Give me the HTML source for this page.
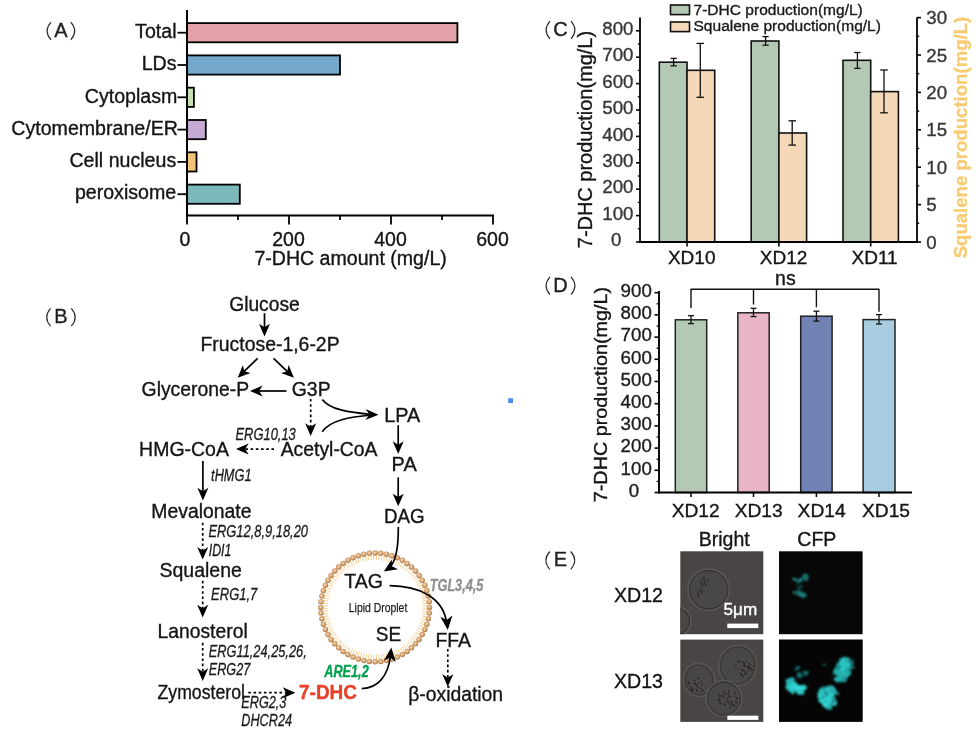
<!DOCTYPE html>
<html><head><meta charset="utf-8"><title>Figure</title>
<style>html,body{margin:0;padding:0;background:#fff;}svg{display:block;filter:blur(0.45px);font-family:"Liberation Sans",sans-serif;}</style>
</head><body>
<svg width="979" height="738" viewBox="0 0 979 738" font-family="Liberation Sans, sans-serif">
<rect width="979" height="738" fill="#fff"/>
<path d="M51.0 22.1Q43.2 31.0 51.0 39.9" fill="none" stroke="#2a2a2a" stroke-width="1.15"/>
<path d="M70.8 22.1Q78.6 31.0 70.8 39.9" fill="none" stroke="#2a2a2a" stroke-width="1.15"/>
<text x="60.9" y="36.8" font-size="20" text-anchor="middle" fill="#1e1e1e" stroke="#1e1e1e" stroke-width="0.35" >A</text>
<rect x="187.0" y="23.1" width="270.4" height="19.2" fill="#e3a3a8" stroke="#000" stroke-width="1.8" />
<line x1="177.5" y1="32.7" x2="187.0" y2="32.7" stroke="#000" stroke-width="1.8" />
<text x="176.5" y="37.9" font-size="19.6" text-anchor="end" fill="#151515" stroke="#151515" stroke-width="0.35" >Total</text>
<rect x="187.0" y="55.4" width="153.0" height="19.2" fill="#74a8cc" stroke="#000" stroke-width="1.8" />
<line x1="177.5" y1="65.0" x2="187.0" y2="65.0" stroke="#000" stroke-width="1.8" />
<text x="176.5" y="70.2" font-size="19.6" text-anchor="end" fill="#151515" stroke="#151515" stroke-width="0.35" >LDs</text>
<rect x="187.0" y="87.7" width="6.9" height="19.2" fill="#c6e0b4" stroke="#000" stroke-width="1.8" />
<line x1="177.5" y1="97.3" x2="187.0" y2="97.3" stroke="#000" stroke-width="1.8" />
<text x="177.3" y="102.5" font-size="19.6" text-anchor="end" fill="#151515" stroke="#151515" stroke-width="0.35" >Cytoplasm</text>
<rect x="187.0" y="120.0" width="18.8" height="19.2" fill="#c4a9d2" stroke="#000" stroke-width="1.8" />
<line x1="177.5" y1="129.6" x2="187.0" y2="129.6" stroke="#000" stroke-width="1.8" />
<text x="177.9" y="134.8" font-size="19.6" text-anchor="end" fill="#151515" stroke="#151515" stroke-width="0.35" >Cytomembrane/ER</text>
<rect x="187.0" y="152.3" width="9.5" height="19.2" fill="#f3c37c" stroke="#000" stroke-width="1.8" />
<line x1="177.5" y1="161.9" x2="187.0" y2="161.9" stroke="#000" stroke-width="1.8" />
<text x="176.2" y="167.1" font-size="19.6" text-anchor="end" fill="#151515" stroke="#151515" stroke-width="0.35" >Cell nucleus</text>
<rect x="187.0" y="184.6" width="52.8" height="19.2" fill="#7bb9ba" stroke="#000" stroke-width="1.8" />
<line x1="177.5" y1="194.2" x2="187.0" y2="194.2" stroke="#000" stroke-width="1.8" />
<text x="176.2" y="199.4" font-size="19.6" text-anchor="end" fill="#151515" stroke="#151515" stroke-width="0.35" >peroxisome</text>
<line x1="187.0" y1="10.0" x2="187.0" y2="216.5" stroke="#000" stroke-width="2" />
<line x1="186.0" y1="215.5" x2="494.0" y2="215.5" stroke="#000" stroke-width="2" />
<line x1="187.0" y1="215.5" x2="187.0" y2="224.5" stroke="#000" stroke-width="1.8" />
<text x="185.0" y="246.0" font-size="19.5" text-anchor="middle" fill="#151515" stroke="#151515" stroke-width="0.35" >0</text>
<line x1="289.0" y1="215.5" x2="289.0" y2="224.5" stroke="#000" stroke-width="1.8" />
<text x="288.5" y="246.0" font-size="19.5" text-anchor="middle" fill="#151515" stroke="#151515" stroke-width="0.35" >200</text>
<line x1="391.0" y1="215.5" x2="391.0" y2="224.5" stroke="#000" stroke-width="1.8" />
<text x="390.5" y="246.0" font-size="19.5" text-anchor="middle" fill="#151515" stroke="#151515" stroke-width="0.35" >400</text>
<line x1="493.0" y1="215.5" x2="493.0" y2="224.5" stroke="#000" stroke-width="1.8" />
<text x="492.5" y="246.0" font-size="19.5" text-anchor="middle" fill="#151515" stroke="#151515" stroke-width="0.35" >600</text>
<line x1="238.0" y1="215.5" x2="238.0" y2="220.0" stroke="#000" stroke-width="1.8" />
<line x1="340.0" y1="215.5" x2="340.0" y2="220.0" stroke="#000" stroke-width="1.8" />
<line x1="442.0" y1="215.5" x2="442.0" y2="220.0" stroke="#000" stroke-width="1.8" />
<text x="254.4" y="264.5" font-size="19.5" textLength="192.4" lengthAdjust="spacingAndGlyphs" fill="#151515" stroke="#151515" stroke-width="0.35" >7-DHC amount (mg/L)</text>
<path d="M550.0 21.1Q542.2 30.0 550.0 38.9" fill="none" stroke="#2a2a2a" stroke-width="1.15"/>
<path d="M571.0 21.1Q578.8 30.0 571.0 38.9" fill="none" stroke="#2a2a2a" stroke-width="1.15"/>
<text x="560.5" y="35.8" font-size="20" text-anchor="middle" fill="#1e1e1e" stroke="#1e1e1e" stroke-width="0.35" >C</text>
<rect x="659.3" y="62.2" width="27.7" height="179.8" fill="#b4c9b4" stroke="#111" stroke-width="1.6" />
<rect x="687.0" y="70.3" width="27.7" height="171.7" fill="#f5d8b7" stroke="#111" stroke-width="1.6" />
<line x1="673.6" y1="58.4" x2="673.6" y2="65.8" stroke="#111" stroke-width="1.3" />
<line x1="670.5" y1="58.4" x2="676.8" y2="58.4" stroke="#111" stroke-width="1.3" />
<line x1="670.5" y1="65.8" x2="676.8" y2="65.8" stroke="#111" stroke-width="1.3" />
<line x1="700.3" y1="43.4" x2="700.3" y2="97.3" stroke="#111" stroke-width="1.3" />
<line x1="696.5" y1="43.4" x2="704.1" y2="43.4" stroke="#111" stroke-width="1.3" />
<line x1="696.5" y1="97.3" x2="704.1" y2="97.3" stroke="#111" stroke-width="1.3" />
<line x1="687.0" y1="242.0" x2="687.0" y2="246.5" stroke="#000" stroke-width="1.6" />
<rect x="751.2" y="41.0" width="27.7" height="201.0" fill="#b4c9b4" stroke="#111" stroke-width="1.6" />
<rect x="778.9" y="133.0" width="27.7" height="109.0" fill="#f5d8b7" stroke="#111" stroke-width="1.6" />
<line x1="765.6" y1="36.6" x2="765.6" y2="45.2" stroke="#111" stroke-width="1.3" />
<line x1="762.5" y1="36.6" x2="768.7" y2="36.6" stroke="#111" stroke-width="1.3" />
<line x1="762.5" y1="45.2" x2="768.7" y2="45.2" stroke="#111" stroke-width="1.3" />
<line x1="792.2" y1="120.8" x2="792.2" y2="145.1" stroke="#111" stroke-width="1.3" />
<line x1="788.5" y1="120.8" x2="796.0" y2="120.8" stroke="#111" stroke-width="1.3" />
<line x1="788.5" y1="145.1" x2="796.0" y2="145.1" stroke="#111" stroke-width="1.3" />
<line x1="778.9" y1="242.0" x2="778.9" y2="246.5" stroke="#000" stroke-width="1.6" />
<rect x="843.0" y="60.3" width="27.7" height="181.7" fill="#b4c9b4" stroke="#111" stroke-width="1.6" />
<rect x="870.7" y="91.6" width="27.7" height="150.4" fill="#f5d8b7" stroke="#111" stroke-width="1.6" />
<line x1="857.4" y1="52.5" x2="857.4" y2="68.4" stroke="#111" stroke-width="1.3" />
<line x1="854.2" y1="52.5" x2="860.5" y2="52.5" stroke="#111" stroke-width="1.3" />
<line x1="854.2" y1="68.4" x2="860.5" y2="68.4" stroke="#111" stroke-width="1.3" />
<line x1="884.0" y1="70.0" x2="884.0" y2="112.8" stroke="#111" stroke-width="1.3" />
<line x1="880.2" y1="70.0" x2="887.8" y2="70.0" stroke="#111" stroke-width="1.3" />
<line x1="880.2" y1="112.8" x2="887.8" y2="112.8" stroke="#111" stroke-width="1.3" />
<line x1="870.7" y1="242.0" x2="870.7" y2="246.5" stroke="#000" stroke-width="1.6" />
<line x1="640.0" y1="17.5" x2="640.0" y2="243.0" stroke="#000" stroke-width="1.8" />
<line x1="917.0" y1="17.5" x2="917.0" y2="243.0" stroke="#000" stroke-width="1.8" />
<line x1="639.0" y1="242.0" x2="918.0" y2="242.0" stroke="#000" stroke-width="1.8" />
<line x1="636.0" y1="242.0" x2="640.0" y2="242.0" stroke="#000" stroke-width="1.6" />
<text x="621.3" y="246.2" font-size="18.7" text-anchor="end" fill="#363636" stroke="#363636" stroke-width="0.35" >0</text>
<line x1="637.8" y1="228.8" x2="640.0" y2="228.8" stroke="#000" stroke-width="1.3" />
<line x1="636.0" y1="215.6" x2="640.0" y2="215.6" stroke="#000" stroke-width="1.6" />
<text x="633.5" y="219.8" font-size="18.7" text-anchor="end" fill="#363636" stroke="#363636" stroke-width="0.35" >100</text>
<line x1="637.8" y1="202.4" x2="640.0" y2="202.4" stroke="#000" stroke-width="1.3" />
<line x1="636.0" y1="189.2" x2="640.0" y2="189.2" stroke="#000" stroke-width="1.6" />
<text x="633.5" y="193.4" font-size="18.7" text-anchor="end" fill="#363636" stroke="#363636" stroke-width="0.35" >200</text>
<line x1="637.8" y1="176.0" x2="640.0" y2="176.0" stroke="#000" stroke-width="1.3" />
<line x1="636.0" y1="162.8" x2="640.0" y2="162.8" stroke="#000" stroke-width="1.6" />
<text x="633.5" y="167.0" font-size="18.7" text-anchor="end" fill="#363636" stroke="#363636" stroke-width="0.35" >300</text>
<line x1="637.8" y1="149.6" x2="640.0" y2="149.6" stroke="#000" stroke-width="1.3" />
<line x1="636.0" y1="136.4" x2="640.0" y2="136.4" stroke="#000" stroke-width="1.6" />
<text x="633.5" y="140.6" font-size="18.7" text-anchor="end" fill="#363636" stroke="#363636" stroke-width="0.35" >400</text>
<line x1="637.8" y1="123.2" x2="640.0" y2="123.2" stroke="#000" stroke-width="1.3" />
<line x1="636.0" y1="110.0" x2="640.0" y2="110.0" stroke="#000" stroke-width="1.6" />
<text x="633.5" y="114.2" font-size="18.7" text-anchor="end" fill="#363636" stroke="#363636" stroke-width="0.35" >500</text>
<line x1="637.8" y1="96.8" x2="640.0" y2="96.8" stroke="#000" stroke-width="1.3" />
<line x1="636.0" y1="83.6" x2="640.0" y2="83.6" stroke="#000" stroke-width="1.6" />
<text x="633.5" y="87.8" font-size="18.7" text-anchor="end" fill="#363636" stroke="#363636" stroke-width="0.35" >600</text>
<line x1="637.8" y1="70.4" x2="640.0" y2="70.4" stroke="#000" stroke-width="1.3" />
<line x1="636.0" y1="57.2" x2="640.0" y2="57.2" stroke="#000" stroke-width="1.6" />
<text x="633.5" y="61.4" font-size="18.7" text-anchor="end" fill="#363636" stroke="#363636" stroke-width="0.35" >700</text>
<line x1="637.8" y1="44.0" x2="640.0" y2="44.0" stroke="#000" stroke-width="1.3" />
<line x1="636.0" y1="30.8" x2="640.0" y2="30.8" stroke="#000" stroke-width="1.6" />
<text x="633.5" y="35.0" font-size="18.7" text-anchor="end" fill="#363636" stroke="#363636" stroke-width="0.35" >800</text>
<line x1="917.0" y1="242.0" x2="921.0" y2="242.0" stroke="#000" stroke-width="1.6" />
<text x="926.3" y="248.5" font-size="18.7" fill="#363636" stroke="#363636" stroke-width="0.35" >0</text>
<line x1="917.0" y1="223.3" x2="919.2" y2="223.3" stroke="#000" stroke-width="1.3" />
<line x1="917.0" y1="204.6" x2="921.0" y2="204.6" stroke="#000" stroke-width="1.6" />
<text x="926.3" y="211.1" font-size="18.7" fill="#363636" stroke="#363636" stroke-width="0.35" >5</text>
<line x1="917.0" y1="185.9" x2="919.2" y2="185.9" stroke="#000" stroke-width="1.3" />
<line x1="917.0" y1="167.2" x2="921.0" y2="167.2" stroke="#000" stroke-width="1.6" />
<text x="926.3" y="173.7" font-size="18.7" fill="#363636" stroke="#363636" stroke-width="0.35" >10</text>
<line x1="917.0" y1="148.5" x2="919.2" y2="148.5" stroke="#000" stroke-width="1.3" />
<line x1="917.0" y1="129.8" x2="921.0" y2="129.8" stroke="#000" stroke-width="1.6" />
<text x="926.3" y="136.3" font-size="18.7" fill="#363636" stroke="#363636" stroke-width="0.35" >15</text>
<line x1="917.0" y1="111.1" x2="919.2" y2="111.1" stroke="#000" stroke-width="1.3" />
<line x1="917.0" y1="92.4" x2="921.0" y2="92.4" stroke="#000" stroke-width="1.6" />
<text x="926.3" y="98.9" font-size="18.7" fill="#363636" stroke="#363636" stroke-width="0.35" >20</text>
<line x1="917.0" y1="73.7" x2="919.2" y2="73.7" stroke="#000" stroke-width="1.3" />
<line x1="917.0" y1="55.0" x2="921.0" y2="55.0" stroke="#000" stroke-width="1.6" />
<text x="926.3" y="61.5" font-size="18.7" fill="#363636" stroke="#363636" stroke-width="0.35" >25</text>
<line x1="917.0" y1="36.3" x2="919.2" y2="36.3" stroke="#000" stroke-width="1.3" />
<line x1="917.0" y1="17.6" x2="921.0" y2="17.6" stroke="#000" stroke-width="1.6" />
<text x="926.3" y="24.1" font-size="18.7" fill="#363636" stroke="#363636" stroke-width="0.35" >30</text>
<text x="691.7" y="264.3" font-size="19" text-anchor="middle" fill="#151515" stroke="#151515" stroke-width="0.35" >XD10</text>
<text x="783.5" y="264.3" font-size="19" text-anchor="middle" fill="#151515" stroke="#151515" stroke-width="0.35" >XD12</text>
<text x="874.6" y="264.3" font-size="19" text-anchor="middle" fill="#151515" stroke="#151515" stroke-width="0.35" >XD11</text>
<rect x="670.5" y="5.0" width="19.0" height="9.6" fill="#b4c9b4" stroke="#111" stroke-width="1.6" />
<rect x="670.5" y="22.0" width="19.0" height="9.6" fill="#f5d8b7" stroke="#111" stroke-width="1.6" />
<text x="693.5" y="15.3" font-size="15.3" textLength="169.3" lengthAdjust="spacingAndGlyphs" fill="#1a1a1a" stroke="#1a1a1a" stroke-width="0.35" >7-DHC production(mg/L)</text>
<text x="693.5" y="31.1" font-size="15.3" textLength="187.4" lengthAdjust="spacingAndGlyphs" fill="#1a1a1a" stroke="#1a1a1a" stroke-width="0.35" >Squalene production(mg/L)</text>
<text x="592.5" y="248.2" font-size="19.5" textLength="217.3" lengthAdjust="spacingAndGlyphs" fill="#151515" transform="rotate(-90 592.5 248.2)" stroke="#151515" stroke-width="0.35" >7-DHC production(mg/L)</text>
<text x="966.8" y="258.3" font-size="19.2" textLength="241.5" lengthAdjust="spacingAndGlyphs" fill="#f8cb73" font-weight="bold" transform="rotate(-90 966.8 258.3)" stroke="#f8cb73" stroke-width="0.35" >Squalene production(mg/L)</text>
<path d="M550.0 276.9Q542.2 285.8 550.0 294.7" fill="none" stroke="#2a2a2a" stroke-width="1.15"/>
<path d="M571.0 276.9Q578.8 285.8 571.0 294.7" fill="none" stroke="#2a2a2a" stroke-width="1.15"/>
<text x="560.5" y="291.6" font-size="20" text-anchor="middle" fill="#1e1e1e" stroke="#1e1e1e" stroke-width="0.35" >D</text>
<rect x="675.3" y="319.8" width="31.4" height="172.7" fill="#b4c9b4" stroke="#222" stroke-width="1.5" />
<line x1="691.0" y1="315.7" x2="691.0" y2="323.6" stroke="#111" stroke-width="1.3" />
<line x1="688.0" y1="315.7" x2="694.0" y2="315.7" stroke="#111" stroke-width="1.3" />
<line x1="688.0" y1="323.6" x2="694.0" y2="323.6" stroke="#111" stroke-width="1.3" />
<line x1="691.0" y1="289.2" x2="691.0" y2="307.9" stroke="#111" stroke-width="1.4" />
<line x1="691.0" y1="492.5" x2="691.0" y2="497.0" stroke="#000" stroke-width="1.5" />
<rect x="737.8" y="312.8" width="31.4" height="179.7" fill="#e9b5c4" stroke="#222" stroke-width="1.5" />
<line x1="753.5" y1="308.3" x2="753.5" y2="316.6" stroke="#111" stroke-width="1.3" />
<line x1="750.5" y1="308.3" x2="756.5" y2="308.3" stroke="#111" stroke-width="1.3" />
<line x1="750.5" y1="316.6" x2="756.5" y2="316.6" stroke="#111" stroke-width="1.3" />
<line x1="753.5" y1="289.2" x2="753.5" y2="304.5" stroke="#111" stroke-width="1.4" />
<line x1="753.5" y1="492.5" x2="753.5" y2="497.0" stroke="#000" stroke-width="1.5" />
<rect x="800.7" y="316.2" width="31.4" height="176.3" fill="#7083b4" stroke="#222" stroke-width="1.5" />
<line x1="816.4" y1="311.2" x2="816.4" y2="321.1" stroke="#111" stroke-width="1.3" />
<line x1="813.4" y1="311.2" x2="819.4" y2="311.2" stroke="#111" stroke-width="1.3" />
<line x1="813.4" y1="321.1" x2="819.4" y2="321.1" stroke="#111" stroke-width="1.3" />
<line x1="816.4" y1="289.2" x2="816.4" y2="307.2" stroke="#111" stroke-width="1.4" />
<line x1="816.4" y1="492.5" x2="816.4" y2="497.0" stroke="#000" stroke-width="1.5" />
<rect x="863.1" y="319.6" width="31.9" height="172.9" fill="#a9cde0" stroke="#222" stroke-width="1.5" />
<line x1="879.0" y1="314.6" x2="879.0" y2="324.0" stroke="#111" stroke-width="1.3" />
<line x1="876.0" y1="314.6" x2="882.0" y2="314.6" stroke="#111" stroke-width="1.3" />
<line x1="876.0" y1="324.0" x2="882.0" y2="324.0" stroke="#111" stroke-width="1.3" />
<line x1="879.0" y1="289.2" x2="879.0" y2="311.7" stroke="#111" stroke-width="1.4" />
<line x1="879.0" y1="492.5" x2="879.0" y2="497.0" stroke="#000" stroke-width="1.5" />
<line x1="690.6" y1="289.2" x2="879.3" y2="289.2" stroke="#111" stroke-width="1.4" />
<line x1="659.0" y1="291.0" x2="659.0" y2="493.5" stroke="#000" stroke-width="1.9" />
<line x1="658.0" y1="492.5" x2="912.0" y2="492.5" stroke="#000" stroke-width="1.9" />
<line x1="654.5" y1="492.5" x2="659.0" y2="492.5" stroke="#000" stroke-width="1.6" />
<text x="639.2" y="496.7" font-size="18.7" text-anchor="end" fill="#1c1c1c" stroke="#1c1c1c" stroke-width="0.35" >0</text>
<line x1="656.6" y1="481.4" x2="659.0" y2="481.4" stroke="#000" stroke-width="1.3" />
<line x1="654.5" y1="470.3" x2="659.0" y2="470.3" stroke="#000" stroke-width="1.6" />
<text x="651.8" y="474.5" font-size="18.7" text-anchor="end" fill="#1c1c1c" stroke="#1c1c1c" stroke-width="0.35" >100</text>
<line x1="656.6" y1="459.2" x2="659.0" y2="459.2" stroke="#000" stroke-width="1.3" />
<line x1="654.5" y1="448.1" x2="659.0" y2="448.1" stroke="#000" stroke-width="1.6" />
<text x="651.8" y="452.3" font-size="18.7" text-anchor="end" fill="#1c1c1c" stroke="#1c1c1c" stroke-width="0.35" >200</text>
<line x1="656.6" y1="437.0" x2="659.0" y2="437.0" stroke="#000" stroke-width="1.3" />
<line x1="654.5" y1="425.9" x2="659.0" y2="425.9" stroke="#000" stroke-width="1.6" />
<text x="651.8" y="430.1" font-size="18.7" text-anchor="end" fill="#1c1c1c" stroke="#1c1c1c" stroke-width="0.35" >300</text>
<line x1="656.6" y1="414.8" x2="659.0" y2="414.8" stroke="#000" stroke-width="1.3" />
<line x1="654.5" y1="403.7" x2="659.0" y2="403.7" stroke="#000" stroke-width="1.6" />
<text x="651.8" y="407.9" font-size="18.7" text-anchor="end" fill="#1c1c1c" stroke="#1c1c1c" stroke-width="0.35" >400</text>
<line x1="656.6" y1="392.6" x2="659.0" y2="392.6" stroke="#000" stroke-width="1.3" />
<line x1="654.5" y1="381.5" x2="659.0" y2="381.5" stroke="#000" stroke-width="1.6" />
<text x="651.8" y="385.7" font-size="18.7" text-anchor="end" fill="#1c1c1c" stroke="#1c1c1c" stroke-width="0.35" >500</text>
<line x1="656.6" y1="370.4" x2="659.0" y2="370.4" stroke="#000" stroke-width="1.3" />
<line x1="654.5" y1="359.3" x2="659.0" y2="359.3" stroke="#000" stroke-width="1.6" />
<text x="651.8" y="363.5" font-size="18.7" text-anchor="end" fill="#1c1c1c" stroke="#1c1c1c" stroke-width="0.35" >600</text>
<line x1="656.6" y1="348.2" x2="659.0" y2="348.2" stroke="#000" stroke-width="1.3" />
<line x1="654.5" y1="337.1" x2="659.0" y2="337.1" stroke="#000" stroke-width="1.6" />
<text x="651.8" y="341.3" font-size="18.7" text-anchor="end" fill="#1c1c1c" stroke="#1c1c1c" stroke-width="0.35" >700</text>
<line x1="656.6" y1="326.0" x2="659.0" y2="326.0" stroke="#000" stroke-width="1.3" />
<line x1="654.5" y1="314.9" x2="659.0" y2="314.9" stroke="#000" stroke-width="1.6" />
<text x="651.8" y="319.1" font-size="18.7" text-anchor="end" fill="#1c1c1c" stroke="#1c1c1c" stroke-width="0.35" >800</text>
<line x1="656.6" y1="303.8" x2="659.0" y2="303.8" stroke="#000" stroke-width="1.3" />
<line x1="654.5" y1="292.7" x2="659.0" y2="292.7" stroke="#000" stroke-width="1.6" />
<text x="651.8" y="296.9" font-size="18.7" text-anchor="end" fill="#1c1c1c" stroke="#1c1c1c" stroke-width="0.35" >900</text>
<text x="695.7" y="516.6" font-size="19.2" text-anchor="middle" fill="#151515" stroke="#151515" stroke-width="0.35" >XD12</text>
<text x="758.7" y="516.6" font-size="19.2" text-anchor="middle" fill="#151515" stroke="#151515" stroke-width="0.35" >XD13</text>
<text x="821.6" y="516.6" font-size="19.2" text-anchor="middle" fill="#151515" stroke="#151515" stroke-width="0.35" >XD14</text>
<text x="886.0" y="516.6" font-size="19.2" text-anchor="middle" fill="#151515" stroke="#151515" stroke-width="0.35" >XD15</text>
<text x="785.4" y="284.7" font-size="19.5" text-anchor="middle" fill="#151515" stroke="#151515" stroke-width="0.35" >ns</text>
<text x="607.3" y="502.2" font-size="17.8" textLength="215.3" lengthAdjust="spacingAndGlyphs" fill="#151515" transform="rotate(-90 607.3 502.2)" stroke="#151515" stroke-width="0.35" >7-DHC production(mg/L)</text>
<path d="M549.8 551.5Q542.0 560.4 549.8 569.3" fill="none" stroke="#2a2a2a" stroke-width="1.15"/>
<path d="M570.8 551.5Q578.6 560.4 570.8 569.3" fill="none" stroke="#2a2a2a" stroke-width="1.15"/>
<text x="560.3" y="566.2" font-size="20" text-anchor="middle" fill="#1e1e1e" stroke="#1e1e1e" stroke-width="0.35" >E</text>
<text x="724.2" y="546.0" font-size="19.5" text-anchor="middle" fill="#151515" stroke="#151515" stroke-width="0.35" >Bright</text>
<text x="816.8" y="546.0" font-size="19.5" text-anchor="middle" fill="#151515" stroke="#151515" stroke-width="0.35" >CFP</text>
<text x="614.0" y="602.4" font-size="19.5" textLength="49.0" lengthAdjust="spacingAndGlyphs" fill="#151515" stroke="#151515" stroke-width="0.35" >XD12</text>
<text x="614.0" y="688.0" font-size="19.5" textLength="49.0" lengthAdjust="spacingAndGlyphs" fill="#151515" stroke="#151515" stroke-width="0.35" >XD13</text>
<defs><filter id="b1" x="-30%" y="-30%" width="160%" height="160%"><feGaussianBlur stdDeviation="1.2"/></filter><filter id="b2" x="-30%" y="-30%" width="160%" height="160%"><feGaussianBlur stdDeviation="0.55"/></filter><filter id="b3" x="-30%" y="-30%" width="160%" height="160%"><feGaussianBlur stdDeviation="1.5"/></filter><clipPath id="c1"><rect x="680.3" y="551.3" width="83" height="82.9"/></clipPath><clipPath id="c3"><rect x="680.3" y="639.6" width="83" height="82.3"/></clipPath><clipPath id="c2"><rect x="779" y="551.3" width="83.6" height="82.9"/></clipPath><clipPath id="c4"><rect x="779" y="639.5" width="83.7" height="82.4"/></clipPath></defs>
<rect x="680.3" y="551.3" width="83" height="82.9" fill="#484544"/>
<rect x="680.3" y="639.6" width="83" height="82.3" fill="#484544"/>
<rect x="779" y="551.3" width="83.6" height="82.9" fill="#080707"/>
<rect x="779" y="639.5" width="83.7" height="82.4" fill="#050505"/>
<g clip-path="url(#c1)"><g filter="url(#b2)" transform="rotate(0 708.7 589.7)"><ellipse cx="708.7" cy="589.7" rx="20.6" ry="20.6" fill="#494645" stroke="#5b5857" stroke-width="1.5"/><ellipse cx="708.7" cy="589.7" rx="19.1" ry="19.1" fill="none" stroke="#363331" stroke-width="1.2"/></g></g>
<g clip-path="url(#c1)"><g filter="url(#b2)" transform="rotate(0 677 621.2)"><ellipse cx="677" cy="621.2" rx="14" ry="14.5" fill="#494645" stroke="#5b5857" stroke-width="1.5"/><ellipse cx="677" cy="621.2" rx="12.5" ry="13.0" fill="none" stroke="#363331" stroke-width="1.2"/></g></g>
<g clip-path="url(#c1)"><g filter="url(#b2)" transform="rotate(28 702.3 587.5)"><circle cx="701.5" cy="591.5" r="1.3" fill="#312e2d"/><circle cx="702.6" cy="590.6" r="0.7" fill="#5e5b5a"/><circle cx="705.5" cy="591.2" r="1.1" fill="#312e2d"/><circle cx="706.6" cy="590.3" r="0.7" fill="#5e5b5a"/><circle cx="705.5" cy="590.4" r="0.8" fill="#312e2d"/><circle cx="706.6" cy="589.5" r="0.7" fill="#5e5b5a"/><circle cx="701.1" cy="588.7" r="0.9" fill="#312e2d"/><circle cx="702.2" cy="587.8" r="0.7" fill="#5e5b5a"/><circle cx="698.4" cy="592.3" r="0.9" fill="#312e2d"/><circle cx="699.5" cy="591.4" r="0.7" fill="#5e5b5a"/><circle cx="702.9" cy="596.5" r="1.6" fill="#312e2d"/><circle cx="704.0" cy="595.6" r="0.7" fill="#5e5b5a"/><circle cx="699.6" cy="584.1" r="1.6" fill="#312e2d"/><circle cx="700.7" cy="583.2" r="0.7" fill="#5e5b5a"/><circle cx="706.6" cy="590.6" r="1.0" fill="#312e2d"/><circle cx="707.7" cy="589.7" r="0.7" fill="#5e5b5a"/><circle cx="703.3" cy="590.6" r="1.0" fill="#312e2d"/><circle cx="704.4" cy="589.7" r="0.7" fill="#5e5b5a"/><circle cx="703.1" cy="583.0" r="1.3" fill="#312e2d"/><circle cx="704.2" cy="582.1" r="0.7" fill="#5e5b5a"/><circle cx="700.4" cy="582.1" r="1.2" fill="#312e2d"/><circle cx="701.5" cy="581.2" r="0.7" fill="#5e5b5a"/><circle cx="703.4" cy="588.6" r="1.0" fill="#312e2d"/><circle cx="704.5" cy="587.7" r="0.7" fill="#5e5b5a"/><circle cx="701.0" cy="580.7" r="1.1" fill="#312e2d"/><circle cx="702.1" cy="579.8" r="0.7" fill="#5e5b5a"/><circle cx="699.5" cy="583.5" r="1.0" fill="#312e2d"/><circle cx="700.6" cy="582.6" r="0.7" fill="#5e5b5a"/><circle cx="703.4" cy="578.3" r="1.0" fill="#312e2d"/><circle cx="704.5" cy="577.4" r="0.7" fill="#5e5b5a"/><circle cx="699.2" cy="583.7" r="1.5" fill="#312e2d"/><circle cx="700.3" cy="582.8" r="0.7" fill="#5e5b5a"/><circle cx="702.0" cy="581.4" r="1.6" fill="#312e2d"/><circle cx="703.1" cy="580.5" r="0.7" fill="#5e5b5a"/><circle cx="704.6" cy="592.5" r="1.4" fill="#312e2d"/><circle cx="705.7" cy="591.6" r="0.7" fill="#5e5b5a"/><circle cx="704.2" cy="594.1" r="0.8" fill="#312e2d"/><circle cx="705.3" cy="593.2" r="0.7" fill="#5e5b5a"/><circle cx="700.2" cy="578.7" r="1.3" fill="#312e2d"/><circle cx="701.3" cy="577.8" r="0.7" fill="#5e5b5a"/><circle cx="704.2" cy="583.0" r="1.4" fill="#312e2d"/><circle cx="705.3" cy="582.1" r="0.7" fill="#5e5b5a"/><circle cx="699.3" cy="582.6" r="1.2" fill="#312e2d"/><circle cx="700.4" cy="581.7" r="0.7" fill="#5e5b5a"/><circle cx="704.8" cy="578.1" r="1.2" fill="#312e2d"/><circle cx="705.9" cy="577.2" r="0.7" fill="#5e5b5a"/><circle cx="701.7" cy="585.1" r="1.4" fill="#312e2d"/><circle cx="702.8" cy="584.2" r="0.7" fill="#5e5b5a"/><circle cx="699.4" cy="578.4" r="1.5" fill="#312e2d"/><circle cx="700.5" cy="577.5" r="0.7" fill="#5e5b5a"/><circle cx="701.7" cy="594.5" r="1.3" fill="#312e2d"/><circle cx="702.8" cy="593.6" r="0.7" fill="#5e5b5a"/></g></g>
<g clip-path="url(#c3)"><g filter="url(#b2)" transform="rotate(-15 699.1 679.9)"><ellipse cx="699.1" cy="679.9" rx="15.4" ry="16.6" fill="#494645" stroke="#5b5857" stroke-width="1.5"/><ellipse cx="699.1" cy="679.9" rx="13.9" ry="15.100000000000001" fill="none" stroke="#363331" stroke-width="1.2"/></g></g>
<g clip-path="url(#c3)"><g filter="url(#b2)" transform="rotate(10 737.7 665.5)"><ellipse cx="737.7" cy="665.5" rx="18.8" ry="20.2" fill="#494645" stroke="#5b5857" stroke-width="1.5"/><ellipse cx="737.7" cy="665.5" rx="17.3" ry="18.7" fill="none" stroke="#363331" stroke-width="1.2"/></g></g>
<g clip-path="url(#c3)"><g filter="url(#b2)" transform="rotate(0 724 698.6)"><ellipse cx="724" cy="698.6" rx="17.9" ry="17.9" fill="#494645" stroke="#5b5857" stroke-width="1.5"/><ellipse cx="724" cy="698.6" rx="16.4" ry="16.4" fill="none" stroke="#363331" stroke-width="1.2"/></g></g>
<g clip-path="url(#c3)"><g filter="url(#b2)" transform="rotate(0 696.8 685)"><circle cx="702.6" cy="685.7" r="0.9" fill="#312e2d"/><circle cx="703.7" cy="684.8" r="0.7" fill="#5e5b5a"/><circle cx="698.3" cy="686.2" r="1.4" fill="#312e2d"/><circle cx="699.4" cy="685.3" r="0.7" fill="#5e5b5a"/><circle cx="699.7" cy="687.7" r="1.1" fill="#312e2d"/><circle cx="700.8" cy="686.8" r="0.7" fill="#5e5b5a"/><circle cx="698.5" cy="683.5" r="1.2" fill="#312e2d"/><circle cx="699.6" cy="682.6" r="0.7" fill="#5e5b5a"/><circle cx="689.1" cy="682.8" r="1.5" fill="#312e2d"/><circle cx="690.2" cy="681.9" r="0.7" fill="#5e5b5a"/><circle cx="699.8" cy="682.0" r="1.1" fill="#312e2d"/><circle cx="700.9" cy="681.1" r="0.7" fill="#5e5b5a"/><circle cx="691.7" cy="690.5" r="1.6" fill="#312e2d"/><circle cx="692.8" cy="689.6" r="0.7" fill="#5e5b5a"/><circle cx="698.9" cy="687.6" r="1.0" fill="#312e2d"/><circle cx="700.0" cy="686.7" r="0.7" fill="#5e5b5a"/><circle cx="697.4" cy="690.2" r="1.3" fill="#312e2d"/><circle cx="698.5" cy="689.3" r="0.7" fill="#5e5b5a"/><circle cx="696.8" cy="685.5" r="1.1" fill="#312e2d"/><circle cx="697.9" cy="684.6" r="0.7" fill="#5e5b5a"/><circle cx="692.4" cy="689.1" r="1.6" fill="#312e2d"/><circle cx="693.5" cy="688.2" r="0.7" fill="#5e5b5a"/><circle cx="694.5" cy="680.0" r="1.3" fill="#312e2d"/><circle cx="695.6" cy="679.1" r="0.7" fill="#5e5b5a"/><circle cx="695.9" cy="683.4" r="1.5" fill="#312e2d"/><circle cx="697.0" cy="682.5" r="0.7" fill="#5e5b5a"/><circle cx="698.3" cy="678.1" r="1.4" fill="#312e2d"/><circle cx="699.4" cy="677.2" r="0.7" fill="#5e5b5a"/><circle cx="692.6" cy="688.0" r="0.9" fill="#312e2d"/><circle cx="693.7" cy="687.1" r="0.7" fill="#5e5b5a"/><circle cx="695.4" cy="683.6" r="0.9" fill="#312e2d"/><circle cx="696.5" cy="682.7" r="0.7" fill="#5e5b5a"/><circle cx="697.7" cy="687.9" r="1.1" fill="#312e2d"/><circle cx="698.8" cy="687.0" r="0.7" fill="#5e5b5a"/><circle cx="696.9" cy="685.0" r="0.9" fill="#312e2d"/><circle cx="698.0" cy="684.1" r="0.7" fill="#5e5b5a"/><circle cx="701.0" cy="687.7" r="0.8" fill="#312e2d"/><circle cx="702.1" cy="686.8" r="0.7" fill="#5e5b5a"/><circle cx="701.5" cy="680.8" r="0.9" fill="#312e2d"/><circle cx="702.6" cy="679.9" r="0.7" fill="#5e5b5a"/><circle cx="696.7" cy="689.4" r="1.1" fill="#312e2d"/><circle cx="697.8" cy="688.5" r="0.7" fill="#5e5b5a"/><circle cx="702.5" cy="689.8" r="1.6" fill="#312e2d"/><circle cx="703.6" cy="688.9" r="0.7" fill="#5e5b5a"/><circle cx="691.0" cy="686.1" r="0.9" fill="#312e2d"/><circle cx="692.1" cy="685.2" r="0.7" fill="#5e5b5a"/><circle cx="700.8" cy="687.6" r="1.0" fill="#312e2d"/><circle cx="701.9" cy="686.7" r="0.7" fill="#5e5b5a"/><circle cx="698.4" cy="682.3" r="0.8" fill="#312e2d"/><circle cx="699.5" cy="681.4" r="0.7" fill="#5e5b5a"/><circle cx="702.8" cy="683.3" r="0.9" fill="#312e2d"/><circle cx="703.9" cy="682.4" r="0.7" fill="#5e5b5a"/></g></g>
<g clip-path="url(#c3)"><g filter="url(#b2)" transform="rotate(0 743.5 669.8)"><circle cx="742.1" cy="669.3" r="1.2" fill="#312e2d"/><circle cx="743.2" cy="668.4" r="0.7" fill="#5e5b5a"/><circle cx="751.8" cy="668.5" r="1.4" fill="#312e2d"/><circle cx="752.9" cy="667.6" r="0.7" fill="#5e5b5a"/><circle cx="743.1" cy="676.1" r="0.9" fill="#312e2d"/><circle cx="744.2" cy="675.2" r="0.7" fill="#5e5b5a"/><circle cx="744.4" cy="662.2" r="1.4" fill="#312e2d"/><circle cx="745.5" cy="661.3" r="0.7" fill="#5e5b5a"/><circle cx="741.5" cy="674.2" r="1.4" fill="#312e2d"/><circle cx="742.6" cy="673.3" r="0.7" fill="#5e5b5a"/><circle cx="751.8" cy="668.9" r="1.4" fill="#312e2d"/><circle cx="752.9" cy="668.0" r="0.7" fill="#5e5b5a"/><circle cx="746.7" cy="661.6" r="1.0" fill="#312e2d"/><circle cx="747.8" cy="660.7" r="0.7" fill="#5e5b5a"/><circle cx="738.2" cy="669.1" r="0.8" fill="#312e2d"/><circle cx="739.3" cy="668.2" r="0.7" fill="#5e5b5a"/><circle cx="748.2" cy="670.8" r="1.0" fill="#312e2d"/><circle cx="749.3" cy="669.9" r="0.7" fill="#5e5b5a"/><circle cx="740.4" cy="660.2" r="1.2" fill="#312e2d"/><circle cx="741.5" cy="659.3" r="0.7" fill="#5e5b5a"/><circle cx="751.8" cy="665.8" r="1.6" fill="#312e2d"/><circle cx="752.9" cy="664.9" r="0.7" fill="#5e5b5a"/><circle cx="740.7" cy="673.5" r="1.0" fill="#312e2d"/><circle cx="741.8" cy="672.6" r="0.7" fill="#5e5b5a"/><circle cx="744.8" cy="674.3" r="1.3" fill="#312e2d"/><circle cx="745.9" cy="673.4" r="0.7" fill="#5e5b5a"/><circle cx="750.2" cy="664.2" r="1.2" fill="#312e2d"/><circle cx="751.3" cy="663.3" r="0.7" fill="#5e5b5a"/><circle cx="738.9" cy="662.1" r="0.9" fill="#312e2d"/><circle cx="740.0" cy="661.2" r="0.7" fill="#5e5b5a"/><circle cx="738.9" cy="661.3" r="1.4" fill="#312e2d"/><circle cx="740.0" cy="660.4" r="0.7" fill="#5e5b5a"/><circle cx="743.5" cy="662.5" r="0.9" fill="#312e2d"/><circle cx="744.6" cy="661.6" r="0.7" fill="#5e5b5a"/><circle cx="744.8" cy="663.9" r="1.4" fill="#312e2d"/><circle cx="745.9" cy="663.0" r="0.7" fill="#5e5b5a"/><circle cx="749.1" cy="668.6" r="1.1" fill="#312e2d"/><circle cx="750.2" cy="667.7" r="0.7" fill="#5e5b5a"/><circle cx="750.7" cy="666.9" r="0.9" fill="#312e2d"/><circle cx="751.8" cy="666.0" r="0.7" fill="#5e5b5a"/><circle cx="745.9" cy="672.7" r="1.5" fill="#312e2d"/><circle cx="747.0" cy="671.8" r="0.7" fill="#5e5b5a"/><circle cx="744.7" cy="666.0" r="1.5" fill="#312e2d"/><circle cx="745.8" cy="665.1" r="0.7" fill="#5e5b5a"/><circle cx="750.7" cy="668.7" r="1.1" fill="#312e2d"/><circle cx="751.8" cy="667.8" r="0.7" fill="#5e5b5a"/><circle cx="740.4" cy="668.7" r="0.8" fill="#312e2d"/><circle cx="741.5" cy="667.8" r="0.7" fill="#5e5b5a"/><circle cx="750.6" cy="668.3" r="1.2" fill="#312e2d"/><circle cx="751.7" cy="667.4" r="0.7" fill="#5e5b5a"/><circle cx="748.9" cy="667.0" r="1.5" fill="#312e2d"/><circle cx="750.0" cy="666.1" r="0.7" fill="#5e5b5a"/><circle cx="745.4" cy="665.5" r="1.0" fill="#312e2d"/><circle cx="746.5" cy="664.6" r="0.7" fill="#5e5b5a"/><circle cx="742.3" cy="674.8" r="1.3" fill="#312e2d"/><circle cx="743.4" cy="673.9" r="0.7" fill="#5e5b5a"/><circle cx="743.2" cy="676.6" r="0.9" fill="#312e2d"/><circle cx="744.3" cy="675.7" r="0.7" fill="#5e5b5a"/><circle cx="748.0" cy="666.5" r="1.2" fill="#312e2d"/><circle cx="749.1" cy="665.6" r="0.7" fill="#5e5b5a"/><circle cx="736.1" cy="664.8" r="1.1" fill="#312e2d"/><circle cx="737.2" cy="663.9" r="0.7" fill="#5e5b5a"/><circle cx="749.0" cy="666.1" r="1.2" fill="#312e2d"/><circle cx="750.1" cy="665.2" r="0.7" fill="#5e5b5a"/><circle cx="742.3" cy="669.6" r="1.2" fill="#312e2d"/><circle cx="743.4" cy="668.7" r="0.7" fill="#5e5b5a"/><circle cx="743.7" cy="670.4" r="1.4" fill="#312e2d"/><circle cx="744.8" cy="669.5" r="0.7" fill="#5e5b5a"/></g></g>
<g clip-path="url(#c3)"><g filter="url(#b2)" transform="rotate(0 728.6 698.8)"><circle cx="731.7" cy="704.0" r="1.4" fill="#312e2d"/><circle cx="732.8" cy="703.1" r="0.7" fill="#5e5b5a"/><circle cx="723.5" cy="697.1" r="1.2" fill="#312e2d"/><circle cx="724.6" cy="696.2" r="0.7" fill="#5e5b5a"/><circle cx="720.6" cy="696.2" r="0.9" fill="#312e2d"/><circle cx="721.7" cy="695.3" r="0.7" fill="#5e5b5a"/><circle cx="724.2" cy="697.2" r="1.0" fill="#312e2d"/><circle cx="725.3" cy="696.3" r="0.7" fill="#5e5b5a"/><circle cx="729.6" cy="692.7" r="1.2" fill="#312e2d"/><circle cx="730.7" cy="691.8" r="0.7" fill="#5e5b5a"/><circle cx="729.2" cy="690.6" r="1.2" fill="#312e2d"/><circle cx="730.3" cy="689.7" r="0.7" fill="#5e5b5a"/><circle cx="723.4" cy="694.8" r="1.2" fill="#312e2d"/><circle cx="724.5" cy="693.9" r="0.7" fill="#5e5b5a"/><circle cx="726.3" cy="693.4" r="1.2" fill="#312e2d"/><circle cx="727.4" cy="692.5" r="0.7" fill="#5e5b5a"/><circle cx="719.4" cy="699.9" r="1.4" fill="#312e2d"/><circle cx="720.5" cy="699.0" r="0.7" fill="#5e5b5a"/><circle cx="735.3" cy="693.0" r="1.0" fill="#312e2d"/><circle cx="736.4" cy="692.1" r="0.7" fill="#5e5b5a"/><circle cx="719.9" cy="695.7" r="1.5" fill="#312e2d"/><circle cx="721.0" cy="694.8" r="0.7" fill="#5e5b5a"/><circle cx="730.8" cy="701.1" r="1.2" fill="#312e2d"/><circle cx="731.9" cy="700.2" r="0.7" fill="#5e5b5a"/><circle cx="732.8" cy="700.7" r="0.9" fill="#312e2d"/><circle cx="733.9" cy="699.8" r="0.7" fill="#5e5b5a"/><circle cx="724.5" cy="692.1" r="1.5" fill="#312e2d"/><circle cx="725.6" cy="691.2" r="0.7" fill="#5e5b5a"/><circle cx="733.2" cy="704.8" r="1.3" fill="#312e2d"/><circle cx="734.3" cy="703.9" r="0.7" fill="#5e5b5a"/><circle cx="734.2" cy="705.1" r="1.6" fill="#312e2d"/><circle cx="735.3" cy="704.2" r="0.7" fill="#5e5b5a"/><circle cx="730.4" cy="707.0" r="1.1" fill="#312e2d"/><circle cx="731.5" cy="706.1" r="0.7" fill="#5e5b5a"/><circle cx="719.1" cy="699.5" r="1.5" fill="#312e2d"/><circle cx="720.2" cy="698.6" r="0.7" fill="#5e5b5a"/><circle cx="731.9" cy="703.6" r="1.2" fill="#312e2d"/><circle cx="733.0" cy="702.7" r="0.7" fill="#5e5b5a"/><circle cx="726.3" cy="702.0" r="1.1" fill="#312e2d"/><circle cx="727.4" cy="701.1" r="0.7" fill="#5e5b5a"/><circle cx="728.4" cy="697.6" r="1.2" fill="#312e2d"/><circle cx="729.5" cy="696.7" r="0.7" fill="#5e5b5a"/><circle cx="727.4" cy="699.2" r="1.1" fill="#312e2d"/><circle cx="728.5" cy="698.3" r="0.7" fill="#5e5b5a"/><circle cx="723.7" cy="694.5" r="0.9" fill="#312e2d"/><circle cx="724.8" cy="693.6" r="0.7" fill="#5e5b5a"/><circle cx="737.1" cy="698.1" r="1.6" fill="#312e2d"/><circle cx="738.2" cy="697.2" r="0.7" fill="#5e5b5a"/><circle cx="732.5" cy="701.5" r="0.8" fill="#312e2d"/><circle cx="733.6" cy="700.6" r="0.7" fill="#5e5b5a"/><circle cx="729.5" cy="694.4" r="0.9" fill="#312e2d"/><circle cx="730.6" cy="693.5" r="0.7" fill="#5e5b5a"/><circle cx="720.5" cy="702.7" r="1.5" fill="#312e2d"/><circle cx="721.6" cy="701.8" r="0.7" fill="#5e5b5a"/><circle cx="728.4" cy="702.1" r="1.5" fill="#312e2d"/><circle cx="729.5" cy="701.2" r="0.7" fill="#5e5b5a"/><circle cx="721.3" cy="695.7" r="0.9" fill="#312e2d"/><circle cx="722.4" cy="694.8" r="0.7" fill="#5e5b5a"/><circle cx="736.0" cy="701.3" r="1.1" fill="#312e2d"/><circle cx="737.1" cy="700.4" r="0.7" fill="#5e5b5a"/><circle cx="737.0" cy="702.5" r="1.3" fill="#312e2d"/><circle cx="738.1" cy="701.6" r="0.7" fill="#5e5b5a"/><circle cx="729.5" cy="696.4" r="1.5" fill="#312e2d"/><circle cx="730.6" cy="695.5" r="0.7" fill="#5e5b5a"/><circle cx="736.7" cy="702.0" r="1.2" fill="#312e2d"/><circle cx="737.8" cy="701.1" r="0.7" fill="#5e5b5a"/><circle cx="724.8" cy="704.2" r="1.5" fill="#312e2d"/><circle cx="725.9" cy="703.3" r="0.7" fill="#5e5b5a"/></g></g>
<rect x="727.3" y="623.6" width="31" height="4.5" fill="#fff"/>
<rect x="727.4" y="715.7" width="31" height="4.2" fill="#fff"/>
<text x="723.6" y="614.7" font-size="16.2" textLength="33.6" lengthAdjust="spacingAndGlyphs" fill="#fff" stroke="#fff" stroke-width="0.4">5μm</text>
<g clip-path="url(#c2)"><g filter="url(#b1)"><circle cx="800.7" cy="579.6" r="1.9" fill="#239090" fill-opacity="0.93"/><circle cx="804.2" cy="577.5" r="1.4" fill="#1f807e" fill-opacity="0.67"/><circle cx="799.2" cy="581.5" r="1.6" fill="#1b7472" fill-opacity="0.82"/><circle cx="800.4" cy="581.6" r="1.2" fill="#1b7472" fill-opacity="0.56"/><circle cx="793.9" cy="579.1" r="1.7" fill="#239090" fill-opacity="0.92"/><circle cx="806.0" cy="579.6" r="1.9" fill="#1b7472" fill-opacity="0.77"/><circle cx="805.7" cy="575.3" r="1.9" fill="#1b7472" fill-opacity="0.94"/><circle cx="797.7" cy="581.5" r="1.9" fill="#239090" fill-opacity="0.61"/><circle cx="807.6" cy="577.1" r="1.2" fill="#1f807e" fill-opacity="0.80"/><circle cx="803.9" cy="576.2" r="1.3" fill="#1f807e" fill-opacity="0.89"/><circle cx="804.4" cy="575.6" r="1.8" fill="#1b7472" fill-opacity="0.83"/><circle cx="803.7" cy="578.3" r="1.6" fill="#1b7472" fill-opacity="0.66"/><circle cx="807.3" cy="576.5" r="1.5" fill="#239090" fill-opacity="0.56"/><circle cx="803.0" cy="576.8" r="1.2" fill="#1f807e" fill-opacity="0.70"/><circle cx="796.0" cy="579.4" r="1.4" fill="#1f807e" fill-opacity="0.86"/><circle cx="806.3" cy="579.3" r="1.6" fill="#1f807e" fill-opacity="0.57"/><circle cx="802.6" cy="595.2" r="1.3" fill="#1d7a78" fill-opacity="0.93"/><circle cx="800.8" cy="593.7" r="1.9" fill="#218684" fill-opacity="0.79"/><circle cx="800.1" cy="591.9" r="1.3" fill="#196c6a" fill-opacity="0.84"/><circle cx="798.5" cy="593.9" r="2.0" fill="#218684" fill-opacity="0.80"/><circle cx="799.0" cy="591.6" r="2.0" fill="#1d7a78" fill-opacity="0.85"/><circle cx="794.3" cy="592.6" r="1.9" fill="#1d7a78" fill-opacity="0.78"/><circle cx="803.5" cy="593.4" r="1.8" fill="#218684" fill-opacity="0.58"/><circle cx="803.9" cy="595.8" r="1.5" fill="#1d7a78" fill-opacity="0.73"/><circle cx="800.0" cy="594.8" r="1.8" fill="#218684" fill-opacity="0.75"/><circle cx="804.8" cy="595.3" r="2.0" fill="#218684" fill-opacity="0.91"/><circle cx="802.8" cy="596.3" r="1.9" fill="#218684" fill-opacity="0.65"/><circle cx="802.0" cy="595.6" r="1.9" fill="#218684" fill-opacity="0.64"/><circle cx="797.0" cy="592.4" r="1.3" fill="#196c6a" fill-opacity="0.91"/><circle cx="799.4" cy="587.4" r="1.3" fill="#0f3a3a" fill-opacity="0.61"/><circle cx="799.5" cy="590.4" r="1.7" fill="#114242" fill-opacity="0.60"/><circle cx="798.0" cy="586.8" r="1.8" fill="#0f3a3a" fill-opacity="0.82"/><circle cx="799.1" cy="589.6" r="1.6" fill="#114242" fill-opacity="0.86"/><circle cx="801.1" cy="586.4" r="2.0" fill="#114242" fill-opacity="0.92"/></g></g>
<g clip-path="url(#c4)"><g filter="url(#b1)"><circle cx="802.0" cy="690.3" r="2.6" fill="#27b8b8" fill-opacity="0.70"/><circle cx="805.4" cy="687.4" r="2.1" fill="#2fd0ce" fill-opacity="0.61"/><circle cx="787.6" cy="680.8" r="2.1" fill="#2ac4c3" fill-opacity="0.80"/><circle cx="794.3" cy="688.4" r="1.7" fill="#35dcd9" fill-opacity="0.91"/><circle cx="794.5" cy="685.8" r="2.5" fill="#2fd0ce" fill-opacity="0.82"/><circle cx="787.8" cy="686.2" r="1.8" fill="#27b8b8" fill-opacity="0.68"/><circle cx="796.3" cy="686.4" r="2.4" fill="#35dcd9" fill-opacity="0.60"/><circle cx="804.3" cy="687.7" r="1.7" fill="#35dcd9" fill-opacity="0.58"/><circle cx="787.2" cy="686.9" r="1.8" fill="#2fd0ce" fill-opacity="0.72"/><circle cx="794.9" cy="687.8" r="1.5" fill="#2fd0ce" fill-opacity="0.81"/><circle cx="794.7" cy="683.3" r="1.9" fill="#35dcd9" fill-opacity="0.68"/><circle cx="794.3" cy="686.2" r="2.5" fill="#27b8b8" fill-opacity="0.93"/><circle cx="789.4" cy="680.8" r="2.5" fill="#2fd0ce" fill-opacity="0.71"/><circle cx="794.3" cy="683.5" r="2.0" fill="#35dcd9" fill-opacity="0.91"/><circle cx="792.8" cy="683.7" r="1.8" fill="#27b8b8" fill-opacity="0.67"/><circle cx="792.7" cy="691.6" r="2.0" fill="#35dcd9" fill-opacity="0.82"/><circle cx="799.5" cy="693.0" r="1.6" fill="#2fd0ce" fill-opacity="0.91"/><circle cx="791.6" cy="684.2" r="2.6" fill="#35dcd9" fill-opacity="0.73"/><circle cx="797.4" cy="690.1" r="1.6" fill="#2fd0ce" fill-opacity="0.77"/><circle cx="791.7" cy="688.9" r="2.5" fill="#2ac4c3" fill-opacity="0.85"/><circle cx="789.7" cy="686.0" r="1.9" fill="#2ac4c3" fill-opacity="0.69"/><circle cx="799.8" cy="690.2" r="1.6" fill="#35dcd9" fill-opacity="0.75"/><circle cx="792.5" cy="678.9" r="1.5" fill="#2ac4c3" fill-opacity="0.91"/><circle cx="788.5" cy="687.1" r="2.5" fill="#27b8b8" fill-opacity="0.89"/><circle cx="797.3" cy="686.3" r="1.9" fill="#2fd0ce" fill-opacity="0.86"/><circle cx="793.4" cy="685.3" r="2.6" fill="#27b8b8" fill-opacity="0.65"/><circle cx="797.9" cy="689.6" r="2.5" fill="#2fd0ce" fill-opacity="0.84"/><circle cx="793.6" cy="679.3" r="1.5" fill="#27b8b8" fill-opacity="0.86"/><circle cx="799.3" cy="688.3" r="2.2" fill="#2fd0ce" fill-opacity="0.67"/><circle cx="798.0" cy="690.6" r="2.2" fill="#27b8b8" fill-opacity="0.59"/><circle cx="801.0" cy="691.8" r="1.9" fill="#2ac4c3" fill-opacity="0.64"/><circle cx="795.5" cy="685.7" r="2.6" fill="#35dcd9" fill-opacity="0.66"/><circle cx="789.6" cy="690.2" r="2.0" fill="#2ac4c3" fill-opacity="0.64"/><circle cx="792.7" cy="693.1" r="1.5" fill="#35dcd9" fill-opacity="0.63"/><circle cx="803.5" cy="685.9" r="1.7" fill="#2fd0ce" fill-opacity="0.82"/><circle cx="800.7" cy="687.2" r="2.2" fill="#2fd0ce" fill-opacity="0.84"/><circle cx="790.5" cy="687.7" r="2.4" fill="#2fd0ce" fill-opacity="0.85"/><circle cx="791.9" cy="684.2" r="1.8" fill="#2ac4c3" fill-opacity="0.88"/><circle cx="794.9" cy="689.9" r="1.5" fill="#35dcd9" fill-opacity="0.80"/><circle cx="791.4" cy="678.9" r="1.9" fill="#27b8b8" fill-opacity="0.82"/><circle cx="799.8" cy="687.5" r="1.5" fill="#27b8b8" fill-opacity="0.56"/><circle cx="792.4" cy="681.5" r="1.6" fill="#2fd0ce" fill-opacity="0.73"/><circle cx="797.3" cy="688.8" r="1.8" fill="#2ac4c3" fill-opacity="0.62"/><circle cx="804.6" cy="688.2" r="1.8" fill="#2fd0ce" fill-opacity="0.84"/><circle cx="792.7" cy="685.8" r="1.7" fill="#2fd0ce" fill-opacity="0.69"/><circle cx="799.5" cy="687.5" r="1.9" fill="#2ac4c3" fill-opacity="0.86"/><circle cx="790.1" cy="690.4" r="1.5" fill="#2fd0ce" fill-opacity="0.74"/><circle cx="787.4" cy="687.8" r="1.8" fill="#2ac4c3" fill-opacity="0.84"/><circle cx="788.3" cy="683.5" r="2.4" fill="#2ac4c3" fill-opacity="0.86"/><circle cx="797.5" cy="687.7" r="2.4" fill="#2fd0ce" fill-opacity="0.57"/><circle cx="796.0" cy="688.5" r="1.8" fill="#35dcd9" fill-opacity="0.68"/><circle cx="798.1" cy="687.1" r="2.5" fill="#35dcd9" fill-opacity="0.67"/><circle cx="802.4" cy="693.0" r="2.0" fill="#2fd0ce" fill-opacity="0.93"/><circle cx="802.1" cy="688.3" r="2.5" fill="#35dcd9" fill-opacity="0.88"/><circle cx="798.6" cy="692.3" r="2.4" fill="#2fd0ce" fill-opacity="0.85"/><circle cx="798.2" cy="667.6" r="1.7" fill="#187878" fill-opacity="0.89"/><circle cx="796.0" cy="669.4" r="1.5" fill="#187878" fill-opacity="0.63"/><circle cx="797.5" cy="668.1" r="2.2" fill="#156c6c" fill-opacity="0.74"/><circle cx="799.2" cy="675.8" r="2.5" fill="#125e5f" fill-opacity="0.95"/><circle cx="799.9" cy="676.6" r="1.9" fill="#156c6c" fill-opacity="0.95"/><circle cx="800.9" cy="675.8" r="1.9" fill="#156c6c" fill-opacity="0.80"/><circle cx="799.1" cy="674.3" r="2.3" fill="#187878" fill-opacity="0.86"/><circle cx="805.7" cy="674.3" r="1.8" fill="#125e5f" fill-opacity="0.85"/><circle cx="806.3" cy="674.2" r="1.7" fill="#156c6c" fill-opacity="0.66"/><circle cx="806.8" cy="672.4" r="1.9" fill="#156c6c" fill-opacity="0.95"/><circle cx="804.9" cy="672.9" r="2.2" fill="#156c6c" fill-opacity="0.95"/><circle cx="845.8" cy="676.4" r="2.4" fill="#22a6a7" fill-opacity="0.92"/><circle cx="846.8" cy="673.1" r="1.5" fill="#25b2b2" fill-opacity="0.79"/><circle cx="846.8" cy="666.0" r="1.8" fill="#25b2b2" fill-opacity="0.90"/><circle cx="838.7" cy="670.1" r="1.5" fill="#25b2b2" fill-opacity="0.79"/><circle cx="842.1" cy="665.0" r="1.8" fill="#2abfbe" fill-opacity="0.57"/><circle cx="844.9" cy="670.4" r="2.4" fill="#22a6a7" fill-opacity="0.88"/><circle cx="837.7" cy="672.0" r="1.5" fill="#2abfbe" fill-opacity="0.56"/><circle cx="837.7" cy="667.8" r="1.5" fill="#1f9a9b" fill-opacity="0.71"/><circle cx="838.4" cy="664.5" r="2.2" fill="#25b2b2" fill-opacity="0.71"/><circle cx="837.6" cy="680.8" r="1.9" fill="#2abfbe" fill-opacity="0.57"/><circle cx="847.5" cy="658.8" r="1.9" fill="#1f9a9b" fill-opacity="0.90"/><circle cx="848.2" cy="671.6" r="1.9" fill="#22a6a7" fill-opacity="0.71"/><circle cx="849.3" cy="669.1" r="1.9" fill="#22a6a7" fill-opacity="0.88"/><circle cx="834.6" cy="673.3" r="2.3" fill="#1f9a9b" fill-opacity="0.60"/><circle cx="845.6" cy="672.3" r="1.5" fill="#1f9a9b" fill-opacity="0.80"/><circle cx="837.0" cy="674.2" r="1.8" fill="#22a6a7" fill-opacity="0.61"/><circle cx="843.2" cy="672.8" r="2.0" fill="#1f9a9b" fill-opacity="0.87"/><circle cx="847.2" cy="670.1" r="2.4" fill="#22a6a7" fill-opacity="0.57"/><circle cx="848.5" cy="668.0" r="1.5" fill="#1f9a9b" fill-opacity="0.83"/><circle cx="844.5" cy="658.5" r="2.1" fill="#22a6a7" fill-opacity="0.80"/><circle cx="842.1" cy="678.1" r="1.5" fill="#22a6a7" fill-opacity="0.93"/><circle cx="843.6" cy="676.7" r="1.7" fill="#22a6a7" fill-opacity="0.84"/><circle cx="845.2" cy="668.9" r="2.2" fill="#25b2b2" fill-opacity="0.68"/><circle cx="837.1" cy="673.1" r="2.2" fill="#2abfbe" fill-opacity="0.67"/><circle cx="840.4" cy="677.0" r="1.9" fill="#2abfbe" fill-opacity="0.73"/><circle cx="849.0" cy="673.6" r="2.0" fill="#1f9a9b" fill-opacity="0.73"/><circle cx="840.9" cy="660.5" r="2.4" fill="#22a6a7" fill-opacity="0.71"/><circle cx="846.5" cy="674.4" r="1.5" fill="#2abfbe" fill-opacity="0.73"/><circle cx="841.8" cy="669.0" r="1.5" fill="#22a6a7" fill-opacity="0.84"/><circle cx="847.6" cy="662.0" r="2.3" fill="#25b2b2" fill-opacity="0.91"/><circle cx="842.6" cy="659.8" r="2.4" fill="#25b2b2" fill-opacity="0.95"/><circle cx="846.7" cy="659.1" r="1.6" fill="#22a6a7" fill-opacity="0.90"/><circle cx="837.5" cy="679.3" r="2.2" fill="#22a6a7" fill-opacity="0.84"/><circle cx="840.4" cy="680.7" r="1.6" fill="#2abfbe" fill-opacity="0.91"/><circle cx="838.0" cy="679.7" r="1.7" fill="#22a6a7" fill-opacity="0.94"/><circle cx="836.8" cy="668.5" r="1.8" fill="#22a6a7" fill-opacity="0.56"/><circle cx="842.9" cy="674.6" r="2.2" fill="#2abfbe" fill-opacity="0.91"/><circle cx="843.1" cy="680.2" r="2.3" fill="#25b2b2" fill-opacity="0.57"/><circle cx="851.8" cy="662.9" r="2.1" fill="#1f9a9b" fill-opacity="0.78"/><circle cx="846.2" cy="668.0" r="2.3" fill="#1f9a9b" fill-opacity="0.70"/><circle cx="837.9" cy="673.4" r="1.8" fill="#22a6a7" fill-opacity="0.86"/><circle cx="839.5" cy="670.3" r="1.8" fill="#25b2b2" fill-opacity="0.76"/><circle cx="836.1" cy="679.2" r="2.3" fill="#2abfbe" fill-opacity="0.85"/><circle cx="841.6" cy="676.3" r="1.9" fill="#1f9a9b" fill-opacity="0.70"/><circle cx="847.7" cy="674.3" r="1.4" fill="#25b2b2" fill-opacity="0.55"/><circle cx="840.5" cy="672.1" r="2.0" fill="#2abfbe" fill-opacity="0.72"/><circle cx="840.8" cy="673.4" r="2.1" fill="#2abfbe" fill-opacity="0.74"/><circle cx="845.0" cy="680.3" r="2.2" fill="#22a6a7" fill-opacity="0.73"/><circle cx="845.4" cy="672.6" r="1.9" fill="#2abfbe" fill-opacity="0.66"/><circle cx="849.4" cy="673.1" r="2.1" fill="#2abfbe" fill-opacity="0.78"/><circle cx="840.7" cy="663.0" r="1.7" fill="#1f9a9b" fill-opacity="0.91"/><circle cx="848.0" cy="674.4" r="1.6" fill="#1f9a9b" fill-opacity="0.61"/><circle cx="846.3" cy="668.7" r="1.6" fill="#22a6a7" fill-opacity="0.63"/><circle cx="841.0" cy="662.8" r="2.4" fill="#1f9a9b" fill-opacity="0.62"/><circle cx="839.3" cy="675.1" r="2.6" fill="#25b2b2" fill-opacity="0.84"/><circle cx="837.0" cy="668.6" r="2.4" fill="#1f9a9b" fill-opacity="0.85"/><circle cx="835.7" cy="669.3" r="1.6" fill="#1f9a9b" fill-opacity="0.95"/><circle cx="839.1" cy="678.9" r="1.8" fill="#25b2b2" fill-opacity="0.85"/><circle cx="844.9" cy="658.8" r="1.7" fill="#25b2b2" fill-opacity="0.77"/><circle cx="835.2" cy="671.2" r="1.8" fill="#2abfbe" fill-opacity="0.92"/><circle cx="846.0" cy="668.5" r="1.6" fill="#25b2b2" fill-opacity="0.91"/><circle cx="847.0" cy="666.2" r="2.3" fill="#22a6a7" fill-opacity="0.68"/><circle cx="848.5" cy="666.6" r="1.9" fill="#22a6a7" fill-opacity="0.89"/><circle cx="852.5" cy="667.2" r="2.0" fill="#1f9a9b" fill-opacity="0.76"/><circle cx="844.6" cy="670.4" r="2.1" fill="#22a6a7" fill-opacity="0.67"/><circle cx="841.2" cy="679.3" r="2.1" fill="#25b2b2" fill-opacity="0.62"/><circle cx="845.6" cy="671.7" r="1.8" fill="#22a6a7" fill-opacity="0.61"/><circle cx="844.7" cy="670.9" r="2.2" fill="#25b2b2" fill-opacity="0.84"/><circle cx="847.5" cy="675.6" r="1.6" fill="#2abfbe" fill-opacity="0.93"/><circle cx="837.8" cy="665.2" r="1.5" fill="#1f9a9b" fill-opacity="0.63"/><circle cx="845.4" cy="664.9" r="2.4" fill="#2fd0ce" fill-opacity="0.80"/><circle cx="844.0" cy="665.6" r="2.4" fill="#2fd0ce" fill-opacity="0.81"/><circle cx="843.0" cy="666.8" r="1.4" fill="#35dcd9" fill-opacity="0.65"/><circle cx="842.3" cy="668.3" r="2.5" fill="#35dcd9" fill-opacity="0.86"/><circle cx="843.4" cy="660.7" r="2.1" fill="#35dcd9" fill-opacity="0.56"/><circle cx="841.6" cy="664.9" r="1.8" fill="#2fd0ce" fill-opacity="0.83"/><circle cx="843.1" cy="662.5" r="2.1" fill="#2fd0ce" fill-opacity="0.66"/><circle cx="841.3" cy="664.3" r="2.3" fill="#35dcd9" fill-opacity="0.94"/><circle cx="848.2" cy="665.4" r="2.2" fill="#27b8b8" fill-opacity="0.88"/><circle cx="848.8" cy="664.5" r="2.1" fill="#35dcd9" fill-opacity="0.61"/><circle cx="848.8" cy="659.8" r="2.0" fill="#2ac4c3" fill-opacity="0.59"/><circle cx="844.6" cy="662.5" r="2.2" fill="#2fd0ce" fill-opacity="0.69"/><circle cx="841.8" cy="665.1" r="1.9" fill="#2fd0ce" fill-opacity="0.81"/><circle cx="842.3" cy="665.5" r="2.5" fill="#27b8b8" fill-opacity="0.75"/><circle cx="824.5" cy="704.8" r="2.5" fill="#2ac4c3" fill-opacity="0.60"/><circle cx="820.6" cy="694.1" r="1.8" fill="#2fd0ce" fill-opacity="0.68"/><circle cx="835.7" cy="702.0" r="1.6" fill="#35dcd9" fill-opacity="0.73"/><circle cx="826.8" cy="688.6" r="1.8" fill="#2ac4c3" fill-opacity="0.81"/><circle cx="823.9" cy="690.6" r="1.8" fill="#35dcd9" fill-opacity="0.83"/><circle cx="829.2" cy="692.4" r="2.6" fill="#2ac4c3" fill-opacity="0.84"/><circle cx="822.9" cy="694.4" r="1.8" fill="#2ac4c3" fill-opacity="0.63"/><circle cx="835.5" cy="692.2" r="1.6" fill="#2fd0ce" fill-opacity="0.81"/><circle cx="830.9" cy="699.4" r="2.4" fill="#2ac4c3" fill-opacity="0.84"/><circle cx="825.4" cy="699.3" r="1.7" fill="#2fd0ce" fill-opacity="0.90"/><circle cx="827.5" cy="696.9" r="2.2" fill="#27b8b8" fill-opacity="0.75"/><circle cx="822.5" cy="692.9" r="1.7" fill="#2ac4c3" fill-opacity="0.85"/><circle cx="832.9" cy="694.8" r="2.2" fill="#27b8b8" fill-opacity="0.78"/><circle cx="820.8" cy="691.0" r="2.2" fill="#2ac4c3" fill-opacity="0.81"/><circle cx="824.1" cy="699.6" r="2.5" fill="#2fd0ce" fill-opacity="0.65"/><circle cx="824.0" cy="703.3" r="1.7" fill="#2ac4c3" fill-opacity="0.72"/><circle cx="822.3" cy="700.9" r="2.0" fill="#27b8b8" fill-opacity="0.81"/><circle cx="832.0" cy="687.6" r="2.3" fill="#35dcd9" fill-opacity="0.71"/><circle cx="819.7" cy="700.1" r="1.7" fill="#2fd0ce" fill-opacity="0.64"/><circle cx="823.2" cy="687.7" r="2.0" fill="#2ac4c3" fill-opacity="0.59"/><circle cx="821.3" cy="695.2" r="2.0" fill="#27b8b8" fill-opacity="0.81"/><circle cx="829.3" cy="689.0" r="2.3" fill="#27b8b8" fill-opacity="0.73"/><circle cx="832.2" cy="694.6" r="2.3" fill="#2fd0ce" fill-opacity="0.80"/><circle cx="824.1" cy="693.7" r="1.9" fill="#27b8b8" fill-opacity="0.56"/><circle cx="824.4" cy="701.2" r="2.1" fill="#35dcd9" fill-opacity="0.59"/><circle cx="828.6" cy="702.8" r="2.6" fill="#2ac4c3" fill-opacity="0.93"/><circle cx="825.2" cy="698.5" r="2.4" fill="#2fd0ce" fill-opacity="0.80"/><circle cx="822.3" cy="700.1" r="2.4" fill="#2ac4c3" fill-opacity="0.61"/><circle cx="821.5" cy="690.2" r="2.0" fill="#27b8b8" fill-opacity="0.67"/><circle cx="825.0" cy="696.4" r="1.8" fill="#27b8b8" fill-opacity="0.89"/><circle cx="829.9" cy="702.4" r="2.6" fill="#35dcd9" fill-opacity="0.82"/><circle cx="820.7" cy="700.2" r="1.8" fill="#35dcd9" fill-opacity="0.81"/><circle cx="827.9" cy="703.4" r="2.2" fill="#2fd0ce" fill-opacity="0.69"/><circle cx="834.5" cy="689.7" r="1.5" fill="#2fd0ce" fill-opacity="0.78"/><circle cx="827.5" cy="706.1" r="2.2" fill="#35dcd9" fill-opacity="0.56"/><circle cx="837.4" cy="693.8" r="1.7" fill="#35dcd9" fill-opacity="0.59"/><circle cx="832.5" cy="699.0" r="1.8" fill="#27b8b8" fill-opacity="0.61"/><circle cx="833.2" cy="689.0" r="2.1" fill="#2ac4c3" fill-opacity="0.83"/><circle cx="830.9" cy="694.9" r="1.6" fill="#35dcd9" fill-opacity="0.83"/><circle cx="820.2" cy="697.5" r="2.2" fill="#27b8b8" fill-opacity="0.60"/><circle cx="834.2" cy="699.0" r="2.0" fill="#2ac4c3" fill-opacity="0.77"/><circle cx="820.2" cy="700.3" r="1.7" fill="#27b8b8" fill-opacity="0.62"/><circle cx="820.4" cy="693.7" r="2.4" fill="#2ac4c3" fill-opacity="0.74"/><circle cx="820.5" cy="695.8" r="1.8" fill="#27b8b8" fill-opacity="0.72"/><circle cx="830.6" cy="694.8" r="2.2" fill="#35dcd9" fill-opacity="0.56"/><circle cx="820.8" cy="693.3" r="2.4" fill="#35dcd9" fill-opacity="0.59"/><circle cx="820.9" cy="700.0" r="1.4" fill="#2ac4c3" fill-opacity="0.84"/><circle cx="823.2" cy="693.7" r="1.8" fill="#35dcd9" fill-opacity="0.86"/><circle cx="819.2" cy="696.2" r="1.9" fill="#35dcd9" fill-opacity="0.72"/><circle cx="819.6" cy="696.2" r="1.8" fill="#35dcd9" fill-opacity="0.75"/><circle cx="826.9" cy="706.2" r="2.6" fill="#35dcd9" fill-opacity="0.81"/><circle cx="827.8" cy="690.4" r="2.3" fill="#35dcd9" fill-opacity="0.60"/><circle cx="830.9" cy="694.9" r="1.9" fill="#2fd0ce" fill-opacity="0.77"/><circle cx="824.2" cy="702.4" r="1.8" fill="#27b8b8" fill-opacity="0.55"/><circle cx="834.7" cy="703.8" r="2.3" fill="#2fd0ce" fill-opacity="0.91"/><circle cx="821.2" cy="693.4" r="1.7" fill="#2fd0ce" fill-opacity="0.82"/><circle cx="821.6" cy="701.3" r="2.2" fill="#2fd0ce" fill-opacity="0.90"/><circle cx="826.4" cy="698.7" r="1.8" fill="#2fd0ce" fill-opacity="0.88"/><circle cx="827.4" cy="688.7" r="2.4" fill="#35dcd9" fill-opacity="0.62"/><circle cx="829.8" cy="696.1" r="2.0" fill="#2fd0ce" fill-opacity="0.76"/><circle cx="829.2" cy="687.4" r="2.1" fill="#27b8b8" fill-opacity="0.92"/><circle cx="827.5" cy="697.0" r="2.1" fill="#27b8b8" fill-opacity="0.95"/><circle cx="825.3" cy="693.8" r="2.1" fill="#27b8b8" fill-opacity="0.58"/><circle cx="820.6" cy="701.0" r="1.9" fill="#2fd0ce" fill-opacity="0.55"/><circle cx="821.0" cy="689.5" r="1.7" fill="#2fd0ce" fill-opacity="0.60"/><circle cx="824.1" cy="698.9" r="1.9" fill="#2ac4c3" fill-opacity="0.85"/><circle cx="832.2" cy="691.8" r="2.3" fill="#2ac4c3" fill-opacity="0.58"/><circle cx="821.0" cy="692.3" r="2.2" fill="#27b8b8" fill-opacity="0.91"/><circle cx="829.8" cy="694.5" r="1.4" fill="#2fd0ce" fill-opacity="0.56"/><circle cx="821.0" cy="690.9" r="1.9" fill="#2fd0ce" fill-opacity="0.67"/><circle cx="819.2" cy="693.3" r="2.1" fill="#27b8b8" fill-opacity="0.68"/><circle cx="834.7" cy="691.0" r="2.2" fill="#27b8b8" fill-opacity="0.61"/><circle cx="828.0" cy="690.1" r="2.2" fill="#2ac4c3" fill-opacity="0.72"/><circle cx="824.4" cy="704.1" r="2.3" fill="#35dcd9" fill-opacity="0.78"/><circle cx="828.7" cy="698.8" r="2.4" fill="#35dcd9" fill-opacity="0.84"/><circle cx="830.2" cy="706.6" r="2.1" fill="#2abfbe" fill-opacity="0.94"/><circle cx="829.0" cy="708.1" r="2.1" fill="#1f9a9b" fill-opacity="0.91"/><circle cx="829.6" cy="705.3" r="1.8" fill="#25b2b2" fill-opacity="0.66"/><circle cx="830.6" cy="708.5" r="1.7" fill="#25b2b2" fill-opacity="0.61"/><circle cx="831.3" cy="704.9" r="1.7" fill="#22a6a7" fill-opacity="0.89"/><circle cx="824.8" cy="664.4" r="0.9" fill="#125e5f" fill-opacity="0.58"/><circle cx="823.5" cy="664.9" r="1.1" fill="#156c6c" fill-opacity="0.84"/><circle cx="825.2" cy="665.2" r="1.1" fill="#156c6c" fill-opacity="0.74"/><circle cx="852.9" cy="659.9" r="0.9" fill="#156c6c" fill-opacity="0.73"/><circle cx="853.4" cy="659.9" r="0.8" fill="#156c6c" fill-opacity="0.78"/></g></g>
<path d="M50.6 308.3Q42.8 317.2 50.6 326.1" fill="none" stroke="#2a2a2a" stroke-width="1.15"/>
<path d="M71.3 308.3Q79.1 317.2 71.3 326.1" fill="none" stroke="#2a2a2a" stroke-width="1.15"/>
<text x="61.0" y="323.0" font-size="20" text-anchor="middle" fill="#1e1e1e" stroke="#1e1e1e" stroke-width="0.35" >B</text>
<text x="229.2" y="310.5" font-size="19.7" textLength="70.5" lengthAdjust="spacingAndGlyphs" fill="#151515" stroke="#151515" stroke-width="0.35" >Glucose</text>
<line x1="264.5" y1="313.2" x2="264.5" y2="327.8" stroke="#000" stroke-width="1.7" />
<path d="M264.5 336.4L259.0 323.8L264.5 327.2L270.0 323.8Z" fill="#000"/>
<text x="200.5" y="351.2" font-size="19.7" textLength="139.1" lengthAdjust="spacingAndGlyphs" fill="#151515" stroke="#151515" stroke-width="0.35" >Fructose-1,6-2P</text>
<line x1="257.6" y1="358.4" x2="243.9" y2="371.7" stroke="#000" stroke-width="1.7" />
<path d="M237.7 377.7L242.9 365.0L244.3 371.3L250.6 372.9Z" fill="#000"/>
<line x1="273.6" y1="358.4" x2="287.7" y2="371.8" stroke="#000" stroke-width="1.7" />
<path d="M293.9 377.7L281.0 373.0L287.2 371.4L288.6 365.0Z" fill="#000"/>
<text x="141.6" y="396.3" font-size="19.7" textLength="107.5" lengthAdjust="spacingAndGlyphs" fill="#151515" stroke="#151515" stroke-width="0.35" >Glycerone-P</text>
<line x1="286.5" y1="391.0" x2="258.6" y2="391.0" stroke="#000" stroke-width="1.7" />
<path d="M250.0 391.0L262.6 385.5L259.2 391.0L262.6 396.5Z" fill="#000"/>
<text x="291.8" y="396.3" font-size="19.7" textLength="38.8" lengthAdjust="spacingAndGlyphs" fill="#151515" stroke="#151515" stroke-width="0.35" >G3P</text>
<line x1="310.7" y1="399.0" x2="310.7" y2="427.3" stroke="#000" stroke-width="1.7" stroke-dasharray="2.6 2.6"/>
<path d="M310.7 435.9L305.2 423.3L310.7 426.7L316.2 423.3Z" fill="#000"/>
<text x="384.2" y="421.8" font-size="19.7" textLength="36.0" lengthAdjust="spacingAndGlyphs" fill="#151515" stroke="#151515" stroke-width="0.35" >LPA</text>
<path d="M322.3 399.4C330 410 350 412.5 372 414.5" fill="none" stroke="#000" stroke-width="1.7"/>
<path d="M322.3 431.8C330 420 350 417 372 415" fill="none" stroke="#000" stroke-width="1.7"/>
<path d="M378.5 414.8L365.4 420.1L369.5 414.6L365.6 408.9Z" fill="#000"/>
<text x="235.5" y="440.1" font-size="15.8" textLength="60.3" lengthAdjust="spacingAndGlyphs" fill="#1a1a1a" font-style="italic" stroke="#1a1a1a" stroke-width="0.3">ERG10,13</text>
<text x="139.1" y="456.0" font-size="19.7" textLength="89.8" lengthAdjust="spacingAndGlyphs" fill="#151515" stroke="#151515" stroke-width="0.35" >HMG-CoA</text>
<line x1="274.0" y1="449.1" x2="244.6" y2="449.1" stroke="#000" stroke-width="1.7" stroke-dasharray="2.6 2.6"/>
<path d="M236.0 449.1L248.6 443.6L245.2 449.1L248.6 454.6Z" fill="#000"/>
<text x="280.7" y="456.0" font-size="19.7" textLength="96.8" lengthAdjust="spacingAndGlyphs" fill="#151515" stroke="#151515" stroke-width="0.35" >Acetyl-CoA</text>
<line x1="202.9" y1="461.0" x2="202.9" y2="491.8" stroke="#000" stroke-width="1.7" />
<path d="M202.9 500.4L197.4 487.8L202.9 491.2L208.4 487.8Z" fill="#000"/>
<text x="211.1" y="481.3" font-size="15.8" textLength="40.4" lengthAdjust="spacingAndGlyphs" fill="#1a1a1a" font-style="italic" stroke="#1a1a1a" stroke-width="0.3">tHMG1</text>
<text x="151.3" y="517.7" font-size="19.7" textLength="100.2" lengthAdjust="spacingAndGlyphs" fill="#151515" stroke="#151515" stroke-width="0.35" >Mevalonate</text>
<line x1="202.7" y1="522.7" x2="202.7" y2="551.0" stroke="#000" stroke-width="1.7" stroke-dasharray="2.6 2.6"/>
<path d="M202.7 559.6L197.2 547.0L202.7 550.4L208.2 547.0Z" fill="#000"/>
<text x="208.4" y="537.1" font-size="15.8" textLength="99.6" lengthAdjust="spacingAndGlyphs" fill="#1a1a1a" font-style="italic" stroke="#1a1a1a" stroke-width="0.3">ERG12,8,9,18,20</text>
<text x="208.8" y="556.2" font-size="15.8" textLength="22.6" lengthAdjust="spacingAndGlyphs" fill="#1a1a1a" font-style="italic" stroke="#1a1a1a" stroke-width="0.3">IDI1</text>
<text x="159.5" y="576.5" font-size="19.7" textLength="82.3" lengthAdjust="spacingAndGlyphs" fill="#151515" stroke="#151515" stroke-width="0.35" >Squalene</text>
<line x1="202.7" y1="580.8" x2="202.7" y2="608.8" stroke="#000" stroke-width="1.7" stroke-dasharray="2.6 2.6"/>
<path d="M202.7 617.4L197.2 604.8L202.7 608.2L208.2 604.8Z" fill="#000"/>
<text x="211.1" y="599.9" font-size="15.8" textLength="46.2" lengthAdjust="spacingAndGlyphs" fill="#1a1a1a" font-style="italic" stroke="#1a1a1a" stroke-width="0.3">ERG1,7</text>
<text x="157.5" y="638.0" font-size="19.7" textLength="90.2" lengthAdjust="spacingAndGlyphs" fill="#151515" stroke="#151515" stroke-width="0.35" >Lanosterol</text>
<line x1="202.7" y1="642.8" x2="202.7" y2="672.3" stroke="#000" stroke-width="1.7" stroke-dasharray="2.6 2.6"/>
<path d="M202.7 680.9L197.2 668.3L202.7 671.7L208.2 668.3Z" fill="#000"/>
<text x="208.8" y="657.1" font-size="15.8" textLength="97.9" lengthAdjust="spacingAndGlyphs" fill="#1a1a1a" font-style="italic" stroke="#1a1a1a" stroke-width="0.3">ERG11,24,25,26,</text>
<text x="208.8" y="675.2" font-size="15.8" textLength="41.5" lengthAdjust="spacingAndGlyphs" fill="#1a1a1a" font-style="italic" stroke="#1a1a1a" stroke-width="0.3">ERG27</text>
<text x="157.5" y="698.6" font-size="19.7" textLength="87.4" lengthAdjust="spacingAndGlyphs" fill="#151515" stroke="#151515" stroke-width="0.35" >Zymosterol</text>
<line x1="248.3" y1="692.7" x2="286.8" y2="692.7" stroke="#000" stroke-width="1.7" stroke-dasharray="2.6 2.6"/>
<path d="M295.4 692.7L282.8 698.2L286.2 692.7L282.8 687.2Z" fill="#000"/>
<text x="299.1" y="699.2" font-size="19.3" textLength="57.8" lengthAdjust="spacingAndGlyphs" fill="#e8412a" font-weight="bold" stroke="#e8412a" stroke-width="0.35" >7-DHC</text>
<text x="241.3" y="707.9" font-size="15.8" textLength="45.1" lengthAdjust="spacingAndGlyphs" fill="#1a1a1a" font-style="italic" stroke="#1a1a1a" stroke-width="0.3">ERG2,3</text>
<text x="241.3" y="726.2" font-size="15.8" textLength="50.7" lengthAdjust="spacingAndGlyphs" fill="#1a1a1a" font-style="italic" stroke="#1a1a1a" stroke-width="0.3">DHCR24</text>
<text x="324.3" y="677.2" font-size="15.6" textLength="44.4" lengthAdjust="spacingAndGlyphs" fill="#00a04e" font-weight="bold" font-style="italic" stroke="#00a04e" stroke-width="0.35" >ARE1,2</text>
<line x1="398.2" y1="425.2" x2="398.2" y2="445.3" stroke="#000" stroke-width="1.7" />
<path d="M398.2 453.9L392.7 441.3L398.2 444.7L403.7 441.3Z" fill="#000"/>
<text x="391.6" y="471.4" font-size="19.7" textLength="25.1" lengthAdjust="spacingAndGlyphs" fill="#151515" stroke="#151515" stroke-width="0.35" >PA</text>
<line x1="398.2" y1="477.4" x2="398.2" y2="497.7" stroke="#000" stroke-width="1.7" />
<path d="M398.2 506.3L392.7 493.7L398.2 497.1L403.7 493.7Z" fill="#000"/>
<text x="383.9" y="523.1" font-size="19.7" textLength="40.6" lengthAdjust="spacingAndGlyphs" fill="#151515" stroke="#151515" stroke-width="0.35" >DAG</text>
<defs><radialGradient id="bd" cx="45%" cy="42%" r="60%"><stop offset="0" stop-color="#f3dcc2"/><stop offset="0.5" stop-color="#d9a873"/><stop offset="1" stop-color="#a56e3c"/></radialGradient></defs>
<g><line x1="426.9" y1="605.9" x2="422.5" y2="606.1" stroke="#fbd08f" stroke-width="1.0"/><line x1="426.9" y1="608.9" x2="422.5" y2="608.7" stroke="#fbd08f" stroke-width="1.0"/><line x1="426.7" y1="611.4" x2="422.4" y2="611.0" stroke="#fbd08f" stroke-width="1.0"/><line x1="426.4" y1="614.3" x2="422.1" y2="613.7" stroke="#fbd08f" stroke-width="1.0"/><line x1="426.1" y1="616.7" x2="421.7" y2="615.9" stroke="#fbd08f" stroke-width="1.0"/><line x1="425.4" y1="619.6" x2="421.2" y2="618.6" stroke="#fbd08f" stroke-width="1.0"/><line x1="424.8" y1="622.0" x2="420.6" y2="620.8" stroke="#fbd08f" stroke-width="1.0"/><line x1="423.9" y1="624.8" x2="419.7" y2="623.3" stroke="#fbd08f" stroke-width="1.0"/><line x1="423.0" y1="627.1" x2="418.9" y2="625.4" stroke="#fbd08f" stroke-width="1.0"/><line x1="421.8" y1="629.8" x2="417.8" y2="627.9" stroke="#fbd08f" stroke-width="1.0"/><line x1="420.7" y1="632.0" x2="416.8" y2="629.9" stroke="#fbd08f" stroke-width="1.0"/><line x1="419.2" y1="634.6" x2="415.5" y2="632.3" stroke="#fbd08f" stroke-width="1.0"/><line x1="417.9" y1="636.7" x2="414.2" y2="634.2" stroke="#fbd08f" stroke-width="1.0"/><line x1="416.1" y1="639.0" x2="412.6" y2="636.3" stroke="#fbd08f" stroke-width="1.0"/><line x1="414.6" y1="641.0" x2="411.2" y2="638.1" stroke="#fbd08f" stroke-width="1.0"/><line x1="412.6" y1="643.1" x2="409.4" y2="640.1" stroke="#fbd08f" stroke-width="1.0"/><line x1="410.8" y1="644.9" x2="407.8" y2="641.7" stroke="#fbd08f" stroke-width="1.0"/><line x1="408.7" y1="646.9" x2="405.8" y2="643.5" stroke="#fbd08f" stroke-width="1.0"/><line x1="406.7" y1="648.4" x2="404.0" y2="644.9" stroke="#fbd08f" stroke-width="1.0"/><line x1="404.4" y1="650.2" x2="401.9" y2="646.5" stroke="#fbd08f" stroke-width="1.0"/><line x1="402.3" y1="651.5" x2="400.0" y2="647.8" stroke="#fbd08f" stroke-width="1.0"/><line x1="399.7" y1="653.0" x2="397.6" y2="649.1" stroke="#fbd08f" stroke-width="1.0"/><line x1="397.5" y1="654.1" x2="395.6" y2="650.1" stroke="#fbd08f" stroke-width="1.0"/><line x1="394.8" y1="655.3" x2="393.1" y2="651.2" stroke="#fbd08f" stroke-width="1.0"/><line x1="392.5" y1="656.2" x2="391.0" y2="652.0" stroke="#fbd08f" stroke-width="1.0"/><line x1="389.7" y1="657.1" x2="388.5" y2="652.9" stroke="#fbd08f" stroke-width="1.0"/><line x1="387.3" y1="657.7" x2="386.3" y2="653.5" stroke="#fbd08f" stroke-width="1.0"/><line x1="384.4" y1="658.4" x2="383.6" y2="654.0" stroke="#fbd08f" stroke-width="1.0"/><line x1="382.0" y1="658.7" x2="381.4" y2="654.4" stroke="#fbd08f" stroke-width="1.0"/><line x1="379.1" y1="659.0" x2="378.7" y2="654.7" stroke="#fbd08f" stroke-width="1.0"/><line x1="376.6" y1="659.2" x2="376.4" y2="654.8" stroke="#fbd08f" stroke-width="1.0"/><line x1="373.6" y1="659.2" x2="373.8" y2="654.8" stroke="#fbd08f" stroke-width="1.0"/><line x1="371.1" y1="659.0" x2="371.5" y2="654.7" stroke="#fbd08f" stroke-width="1.0"/><line x1="368.2" y1="658.7" x2="368.8" y2="654.4" stroke="#fbd08f" stroke-width="1.0"/><line x1="365.8" y1="658.4" x2="366.6" y2="654.0" stroke="#fbd08f" stroke-width="1.0"/><line x1="362.9" y1="657.7" x2="363.9" y2="653.5" stroke="#fbd08f" stroke-width="1.0"/><line x1="360.5" y1="657.1" x2="361.7" y2="652.9" stroke="#fbd08f" stroke-width="1.0"/><line x1="357.7" y1="656.2" x2="359.2" y2="652.0" stroke="#fbd08f" stroke-width="1.0"/><line x1="355.4" y1="655.3" x2="357.1" y2="651.2" stroke="#fbd08f" stroke-width="1.0"/><line x1="352.7" y1="654.1" x2="354.6" y2="650.1" stroke="#fbd08f" stroke-width="1.0"/><line x1="350.5" y1="653.0" x2="352.6" y2="649.1" stroke="#fbd08f" stroke-width="1.0"/><line x1="347.9" y1="651.5" x2="350.2" y2="647.8" stroke="#fbd08f" stroke-width="1.0"/><line x1="345.8" y1="650.2" x2="348.3" y2="646.5" stroke="#fbd08f" stroke-width="1.0"/><line x1="343.5" y1="648.4" x2="346.2" y2="644.9" stroke="#fbd08f" stroke-width="1.0"/><line x1="341.5" y1="646.9" x2="344.4" y2="643.5" stroke="#fbd08f" stroke-width="1.0"/><line x1="339.4" y1="644.9" x2="342.4" y2="641.7" stroke="#fbd08f" stroke-width="1.0"/><line x1="337.6" y1="643.1" x2="340.8" y2="640.1" stroke="#fbd08f" stroke-width="1.0"/><line x1="335.6" y1="641.0" x2="339.0" y2="638.1" stroke="#fbd08f" stroke-width="1.0"/><line x1="334.1" y1="639.0" x2="337.6" y2="636.3" stroke="#fbd08f" stroke-width="1.0"/><line x1="332.3" y1="636.7" x2="336.0" y2="634.2" stroke="#fbd08f" stroke-width="1.0"/><line x1="331.0" y1="634.6" x2="334.7" y2="632.3" stroke="#fbd08f" stroke-width="1.0"/><line x1="329.5" y1="632.0" x2="333.4" y2="629.9" stroke="#fbd08f" stroke-width="1.0"/><line x1="328.4" y1="629.8" x2="332.4" y2="627.9" stroke="#fbd08f" stroke-width="1.0"/><line x1="327.2" y1="627.1" x2="331.3" y2="625.4" stroke="#fbd08f" stroke-width="1.0"/><line x1="326.3" y1="624.8" x2="330.5" y2="623.3" stroke="#fbd08f" stroke-width="1.0"/><line x1="325.4" y1="622.0" x2="329.6" y2="620.8" stroke="#fbd08f" stroke-width="1.0"/><line x1="324.8" y1="619.6" x2="329.0" y2="618.6" stroke="#fbd08f" stroke-width="1.0"/><line x1="324.1" y1="616.7" x2="328.5" y2="615.9" stroke="#fbd08f" stroke-width="1.0"/><line x1="323.8" y1="614.3" x2="328.1" y2="613.7" stroke="#fbd08f" stroke-width="1.0"/><line x1="323.5" y1="611.4" x2="327.8" y2="611.0" stroke="#fbd08f" stroke-width="1.0"/><line x1="323.3" y1="608.9" x2="327.7" y2="608.7" stroke="#fbd08f" stroke-width="1.0"/><line x1="323.3" y1="605.9" x2="327.7" y2="606.1" stroke="#fbd08f" stroke-width="1.0"/><line x1="323.5" y1="603.4" x2="327.8" y2="603.8" stroke="#fbd08f" stroke-width="1.0"/><line x1="323.8" y1="600.5" x2="328.1" y2="601.1" stroke="#fbd08f" stroke-width="1.0"/><line x1="324.1" y1="598.1" x2="328.5" y2="598.9" stroke="#fbd08f" stroke-width="1.0"/><line x1="324.8" y1="595.2" x2="329.0" y2="596.2" stroke="#fbd08f" stroke-width="1.0"/><line x1="325.4" y1="592.8" x2="329.6" y2="594.0" stroke="#fbd08f" stroke-width="1.0"/><line x1="326.3" y1="590.0" x2="330.5" y2="591.5" stroke="#fbd08f" stroke-width="1.0"/><line x1="327.2" y1="587.7" x2="331.3" y2="589.4" stroke="#fbd08f" stroke-width="1.0"/><line x1="328.4" y1="585.0" x2="332.4" y2="586.9" stroke="#fbd08f" stroke-width="1.0"/><line x1="329.5" y1="582.8" x2="333.4" y2="584.9" stroke="#fbd08f" stroke-width="1.0"/><line x1="331.0" y1="580.2" x2="334.7" y2="582.5" stroke="#fbd08f" stroke-width="1.0"/><line x1="332.3" y1="578.1" x2="336.0" y2="580.6" stroke="#fbd08f" stroke-width="1.0"/><line x1="334.1" y1="575.8" x2="337.6" y2="578.5" stroke="#fbd08f" stroke-width="1.0"/><line x1="335.6" y1="573.8" x2="339.0" y2="576.7" stroke="#fbd08f" stroke-width="1.0"/><line x1="337.6" y1="571.7" x2="340.8" y2="574.7" stroke="#fbd08f" stroke-width="1.0"/><line x1="339.4" y1="569.9" x2="342.4" y2="573.1" stroke="#fbd08f" stroke-width="1.0"/><line x1="341.5" y1="567.9" x2="344.4" y2="571.3" stroke="#fbd08f" stroke-width="1.0"/><line x1="343.5" y1="566.4" x2="346.2" y2="569.9" stroke="#fbd08f" stroke-width="1.0"/><line x1="345.8" y1="564.6" x2="348.3" y2="568.3" stroke="#fbd08f" stroke-width="1.0"/><line x1="347.9" y1="563.3" x2="350.2" y2="567.0" stroke="#fbd08f" stroke-width="1.0"/><line x1="350.5" y1="561.8" x2="352.6" y2="565.7" stroke="#fbd08f" stroke-width="1.0"/><line x1="352.7" y1="560.7" x2="354.6" y2="564.7" stroke="#fbd08f" stroke-width="1.0"/><line x1="355.4" y1="559.5" x2="357.1" y2="563.6" stroke="#fbd08f" stroke-width="1.0"/><line x1="357.7" y1="558.6" x2="359.2" y2="562.8" stroke="#fbd08f" stroke-width="1.0"/><line x1="360.5" y1="557.7" x2="361.7" y2="561.9" stroke="#fbd08f" stroke-width="1.0"/><line x1="362.9" y1="557.1" x2="363.9" y2="561.3" stroke="#fbd08f" stroke-width="1.0"/><line x1="365.8" y1="556.4" x2="366.6" y2="560.8" stroke="#fbd08f" stroke-width="1.0"/><line x1="368.2" y1="556.1" x2="368.8" y2="560.4" stroke="#fbd08f" stroke-width="1.0"/><line x1="371.1" y1="555.8" x2="371.5" y2="560.1" stroke="#fbd08f" stroke-width="1.0"/><line x1="373.6" y1="555.6" x2="373.8" y2="560.0" stroke="#fbd08f" stroke-width="1.0"/><line x1="376.6" y1="555.6" x2="376.4" y2="560.0" stroke="#fbd08f" stroke-width="1.0"/><line x1="379.1" y1="555.8" x2="378.7" y2="560.1" stroke="#fbd08f" stroke-width="1.0"/><line x1="382.0" y1="556.1" x2="381.4" y2="560.4" stroke="#fbd08f" stroke-width="1.0"/><line x1="384.4" y1="556.4" x2="383.6" y2="560.8" stroke="#fbd08f" stroke-width="1.0"/><line x1="387.3" y1="557.1" x2="386.3" y2="561.3" stroke="#fbd08f" stroke-width="1.0"/><line x1="389.7" y1="557.7" x2="388.5" y2="561.9" stroke="#fbd08f" stroke-width="1.0"/><line x1="392.5" y1="558.6" x2="391.0" y2="562.8" stroke="#fbd08f" stroke-width="1.0"/><line x1="394.8" y1="559.5" x2="393.1" y2="563.6" stroke="#fbd08f" stroke-width="1.0"/><line x1="397.5" y1="560.7" x2="395.6" y2="564.7" stroke="#fbd08f" stroke-width="1.0"/><line x1="399.7" y1="561.8" x2="397.6" y2="565.7" stroke="#fbd08f" stroke-width="1.0"/><line x1="402.3" y1="563.3" x2="400.0" y2="567.0" stroke="#fbd08f" stroke-width="1.0"/><line x1="404.4" y1="564.6" x2="401.9" y2="568.3" stroke="#fbd08f" stroke-width="1.0"/><line x1="406.7" y1="566.4" x2="404.0" y2="569.9" stroke="#fbd08f" stroke-width="1.0"/><line x1="408.7" y1="567.9" x2="405.8" y2="571.3" stroke="#fbd08f" stroke-width="1.0"/><line x1="410.8" y1="569.9" x2="407.8" y2="573.1" stroke="#fbd08f" stroke-width="1.0"/><line x1="412.6" y1="571.7" x2="409.4" y2="574.7" stroke="#fbd08f" stroke-width="1.0"/><line x1="414.6" y1="573.8" x2="411.2" y2="576.7" stroke="#fbd08f" stroke-width="1.0"/><line x1="416.1" y1="575.8" x2="412.6" y2="578.5" stroke="#fbd08f" stroke-width="1.0"/><line x1="417.9" y1="578.1" x2="414.2" y2="580.6" stroke="#fbd08f" stroke-width="1.0"/><line x1="419.2" y1="580.2" x2="415.5" y2="582.5" stroke="#fbd08f" stroke-width="1.0"/><line x1="420.7" y1="582.8" x2="416.8" y2="584.9" stroke="#fbd08f" stroke-width="1.0"/><line x1="421.8" y1="585.0" x2="417.8" y2="586.9" stroke="#fbd08f" stroke-width="1.0"/><line x1="423.0" y1="587.7" x2="418.9" y2="589.4" stroke="#fbd08f" stroke-width="1.0"/><line x1="423.9" y1="590.0" x2="419.7" y2="591.5" stroke="#fbd08f" stroke-width="1.0"/><line x1="424.8" y1="592.8" x2="420.6" y2="594.0" stroke="#fbd08f" stroke-width="1.0"/><line x1="425.4" y1="595.2" x2="421.2" y2="596.2" stroke="#fbd08f" stroke-width="1.0"/><line x1="426.1" y1="598.1" x2="421.7" y2="598.9" stroke="#fbd08f" stroke-width="1.0"/><line x1="426.4" y1="600.5" x2="422.1" y2="601.1" stroke="#fbd08f" stroke-width="1.0"/><line x1="426.7" y1="603.4" x2="422.4" y2="603.8" stroke="#fbd08f" stroke-width="1.0"/><circle cx="429.5" cy="607.4" r="2.75" fill="url(#bd)"/><circle cx="429.2" cy="613.1" r="2.75" fill="url(#bd)"/><circle cx="428.3" cy="618.7" r="2.75" fill="url(#bd)"/><circle cx="426.8" cy="624.2" r="2.75" fill="url(#bd)"/><circle cx="424.8" cy="629.5" r="2.75" fill="url(#bd)"/><circle cx="422.2" cy="634.6" r="2.75" fill="url(#bd)"/><circle cx="419.1" cy="639.4" r="2.75" fill="url(#bd)"/><circle cx="415.5" cy="643.8" r="2.75" fill="url(#bd)"/><circle cx="411.5" cy="647.8" r="2.75" fill="url(#bd)"/><circle cx="407.1" cy="651.4" r="2.75" fill="url(#bd)"/><circle cx="402.3" cy="654.5" r="2.75" fill="url(#bd)"/><circle cx="397.2" cy="657.1" r="2.75" fill="url(#bd)"/><circle cx="391.9" cy="659.1" r="2.75" fill="url(#bd)"/><circle cx="386.4" cy="660.6" r="2.75" fill="url(#bd)"/><circle cx="380.8" cy="661.5" r="2.75" fill="url(#bd)"/><circle cx="375.1" cy="661.8" r="2.75" fill="url(#bd)"/><circle cx="369.4" cy="661.5" r="2.75" fill="url(#bd)"/><circle cx="363.8" cy="660.6" r="2.75" fill="url(#bd)"/><circle cx="358.3" cy="659.1" r="2.75" fill="url(#bd)"/><circle cx="353.0" cy="657.1" r="2.75" fill="url(#bd)"/><circle cx="347.9" cy="654.5" r="2.75" fill="url(#bd)"/><circle cx="343.1" cy="651.4" r="2.75" fill="url(#bd)"/><circle cx="338.7" cy="647.8" r="2.75" fill="url(#bd)"/><circle cx="334.7" cy="643.8" r="2.75" fill="url(#bd)"/><circle cx="331.1" cy="639.4" r="2.75" fill="url(#bd)"/><circle cx="328.0" cy="634.6" r="2.75" fill="url(#bd)"/><circle cx="325.4" cy="629.5" r="2.75" fill="url(#bd)"/><circle cx="323.4" cy="624.2" r="2.75" fill="url(#bd)"/><circle cx="321.9" cy="618.7" r="2.75" fill="url(#bd)"/><circle cx="321.0" cy="613.1" r="2.75" fill="url(#bd)"/><circle cx="320.7" cy="607.4" r="2.75" fill="url(#bd)"/><circle cx="321.0" cy="601.7" r="2.75" fill="url(#bd)"/><circle cx="321.9" cy="596.1" r="2.75" fill="url(#bd)"/><circle cx="323.4" cy="590.6" r="2.75" fill="url(#bd)"/><circle cx="325.4" cy="585.3" r="2.75" fill="url(#bd)"/><circle cx="328.0" cy="580.2" r="2.75" fill="url(#bd)"/><circle cx="331.1" cy="575.4" r="2.75" fill="url(#bd)"/><circle cx="334.7" cy="571.0" r="2.75" fill="url(#bd)"/><circle cx="338.7" cy="567.0" r="2.75" fill="url(#bd)"/><circle cx="343.1" cy="563.4" r="2.75" fill="url(#bd)"/><circle cx="347.9" cy="560.3" r="2.75" fill="url(#bd)"/><circle cx="353.0" cy="557.7" r="2.75" fill="url(#bd)"/><circle cx="358.3" cy="555.7" r="2.75" fill="url(#bd)"/><circle cx="363.8" cy="554.2" r="2.75" fill="url(#bd)"/><circle cx="369.4" cy="553.3" r="2.75" fill="url(#bd)"/><circle cx="375.1" cy="553.0" r="2.75" fill="url(#bd)"/><circle cx="380.8" cy="553.3" r="2.75" fill="url(#bd)"/><circle cx="386.4" cy="554.2" r="2.75" fill="url(#bd)"/><circle cx="391.9" cy="555.7" r="2.75" fill="url(#bd)"/><circle cx="397.2" cy="557.7" r="2.75" fill="url(#bd)"/><circle cx="402.3" cy="560.3" r="2.75" fill="url(#bd)"/><circle cx="407.1" cy="563.4" r="2.75" fill="url(#bd)"/><circle cx="411.5" cy="567.0" r="2.75" fill="url(#bd)"/><circle cx="415.5" cy="571.0" r="2.75" fill="url(#bd)"/><circle cx="419.1" cy="575.4" r="2.75" fill="url(#bd)"/><circle cx="422.2" cy="580.2" r="2.75" fill="url(#bd)"/><circle cx="424.8" cy="585.3" r="2.75" fill="url(#bd)"/><circle cx="426.8" cy="590.6" r="2.75" fill="url(#bd)"/><circle cx="428.3" cy="596.1" r="2.75" fill="url(#bd)"/><circle cx="429.2" cy="601.7" r="2.75" fill="url(#bd)"/></g>
<text x="344.2" y="588.1" font-size="19.7" textLength="38.6" lengthAdjust="spacingAndGlyphs" fill="#151515" stroke="#151515" stroke-width="0.35" >TAG</text>
<text x="348.8" y="611.9" font-size="13.2" textLength="58.5" lengthAdjust="spacingAndGlyphs" fill="#1c1c1c" stroke="#1c1c1c" stroke-width="0.25">Lipid Droplet</text>
<text x="375.7" y="641.2" font-size="19.7" textLength="25.4" lengthAdjust="spacingAndGlyphs" fill="#151515" stroke="#151515" stroke-width="0.35" >SE</text>
<text x="435.4" y="647.4" font-size="19.7" textLength="35.5" lengthAdjust="spacingAndGlyphs" fill="#151515" stroke="#151515" stroke-width="0.35" >FFA</text>
<text x="429.8" y="590.6" font-size="15.6" textLength="53.5" lengthAdjust="spacingAndGlyphs" fill="#8f8f8f" font-weight="bold" font-style="italic" stroke="#8f8f8f" stroke-width="0.35" >TGL3,4,5</text>
<text x="408.2" y="700.9" font-size="19.7" textLength="94.9" lengthAdjust="spacingAndGlyphs" fill="#151515" stroke="#151515" stroke-width="0.35" >β-oxidation</text>
<path d="M398.3 527C398.5 548 396 562 389 568" fill="none" stroke="#000" stroke-width="1.7"/>
<path d="M383.8 571.6L391.7 559.5L392.0 566.3L398.0 569.3Z" fill="#000"/>
<path d="M389.6 585.7C420 586 443 598 446.5 622" fill="none" stroke="#000" stroke-width="1.7"/>
<path d="M447.8 630.0L440.3 616.7L446.7 619.9L452.4 615.4Z" fill="#000"/>
<line x1="447.8" y1="649.0" x2="447.8" y2="678.2" stroke="#000" stroke-width="1.7" stroke-dasharray="2.6 2.6"/>
<path d="M447.8 686.8L442.3 674.2L447.8 677.6L453.3 674.2Z" fill="#000"/>
<path d="M361.8 688.7C378 688 388 676 390.5 656" fill="none" stroke="#000" stroke-width="1.7"/>
<path d="M391.3 647.4L395.9 662.0L390.2 657.5L383.8 660.7Z" fill="#000"/>
<rect x="508.2" y="398.2" width="4.8" height="4.8" fill="#4c8af5"/>
</svg>
</body></html>
